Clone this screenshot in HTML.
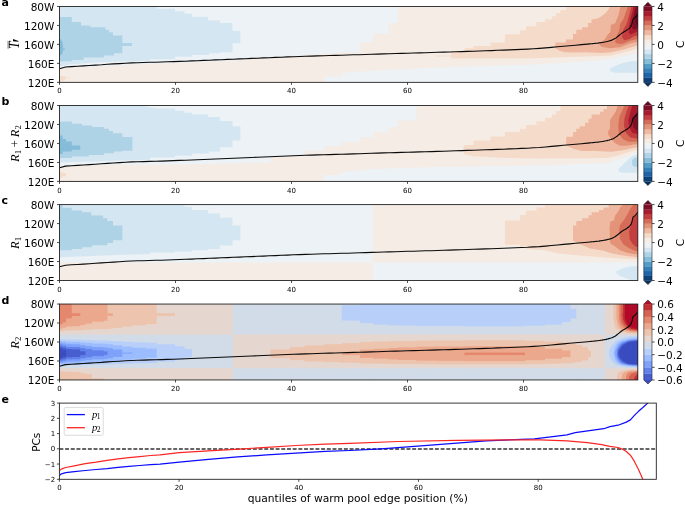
<!DOCTYPE html>
<html><head><meta charset="utf-8"><title>figure</title>
<style>html,body{margin:0;padding:0;background:#fff}svg{display:block}</style></head>
<body>
<svg width="685" height="505" viewBox="0 0 685 505">
<rect width="685" height="505" fill="#fff"/>
<g shape-rendering="auto">
<clipPath id="cpa"><rect x="59.5" y="6.45" width="578.3" height="75.9"/></clipPath>
<g clip-path="url(#cpa)">
<rect x="59.5" y="6.45" width="578.3" height="75.9" fill="#ecf2f5"/>
<path d="M59.5 68.7 L62.4 67.7 L66.0 66.9 L75.0 67.5 L100.0 66.3 L130.0 64.5 L160.0 63.6 L200.0 62.1 L230.0 60.7 L245.0 59.5 L258.0 58.2 L270.0 57.7 L300.0 56.5 L304.0 56.3 L304.0 54.8 L324.0 54.2 L324.0 53.2 L341.8 52.7 L341.8 52.5 L359.9 52.5 L359.9 42.4 L373.2 42.4 L373.2 33.6 L388.8 33.6 L388.8 22.9 L398.0 22.9 L398.0 6.5 L637.8 6.5 L637.8 53.2 L628.8 55.0 L611.0 58.9 L595.0 61.0 L585.0 61.5 L535.0 64.5 L435.0 67.7 L400.0 69.2 L373.0 70.7 L343.0 72.7 L341.8 76.0 L324.0 77.0 L324.0 82.5 L59.5 82.5Z" fill="#f5ece6"/>
<path d="M59.5 6.5 L156.7 6.5 L156.7 8.7 L175.0 8.7 L175.0 11.2 L184.5 11.2 L184.5 13.8 L192.0 13.8 L192.0 16.8 L208.0 16.8 L208.0 20.4 L220.0 20.4 L220.0 22.9 L232.5 22.9 L232.5 30.9 L240.4 30.9 L240.4 43.2 L232.5 43.2 L232.5 52.2 L220.0 52.2 L220.0 53.2 L209.0 53.2 L209.0 55.0 L192.0 55.0 L192.0 56.7 L175.0 56.7 L175.0 59.2 L150.0 59.2 L150.0 60.5 L139.0 61.1 L122.0 61.5 L105.0 62.1 L88.0 63.1 L72.0 64.2 L65.0 65.2 L59.5 66.8Z" fill="#d4e6f1"/>
<path d="M59.5 17.1 L71.8 17.1 L71.8 21.9 L81.0 21.9 L81.0 25.6 L90.4 25.6 L90.4 27.2 L105.5 27.2 L105.5 29.8 L108.9 29.8 L108.9 32.2 L113.0 32.2 L113.0 35.6 L122.3 35.6 L122.3 42.9 L132.0 42.9 L132.0 46.1 L122.3 46.1 L122.3 53.2 L114.0 53.2 L114.0 55.5 L103.8 55.5 L103.8 57.6 L83.6 57.6 L83.6 60.0 L71.8 60.0 L71.8 61.2 L59.5 61.2 L59.5 62.6Z" fill="#aed3e6"/>
<path d="M59.5 38.1 L61.0 39.5 L62.5 42.5 L63.0 46.5 L63.0 48.5 L65.0 48.7 L65.0 49.7 L63.0 49.9 L62.8 52.5 L61.5 54.8 L59.5 55.9Z" fill="#84bcd9"/>
<path d="M59.5 76.0 L63.0 76.0 L66.0 76.9 L66.0 77.2 L70.5 77.2 L70.5 78.0 L66.0 78.0 L65.5 79.0 L63.0 81.0 L59.5 81.0Z" fill="#f5dbca"/>
<path d="M610.0 69.3 L610.5 68.0 L620.0 64.0 L628.8 61.5 L637.8 61.0 L637.8 72.7 L614.8 72.7 L610.5 71.2Z" fill="#d4e6f1"/>
<path d="M435.0 55.5 L451.0 55.5 L451.0 51.9 L464.5 51.5 L464.5 48.2 L473.4 48.2 L473.4 46.1 L490.6 46.1 L490.6 42.4 L504.9 42.4 L504.9 34.2 L520.0 34.2 L520.0 30.2 L526.0 30.2 L526.0 26.3 L536.4 26.3 L536.4 22.1 L545.0 22.1 L545.0 19.2 L552.0 19.2 L552.0 16.2 L556.0 16.2 L556.0 12.9 L560.4 12.9 L560.4 9.9 L566.2 9.9 L566.2 6.5 L637.8 6.5 L637.8 48.4 L628.8 51.0 L611.0 55.4 L595.0 56.2 L585.0 56.4 L525.0 58.4 L451.0 58.4 L451.0 56.4 L435.0 56.4Z" fill="#f5dbca"/>
<path d="M555.3 42.4 L566.0 42.4 L566.0 39.4 L573.0 39.4 L573.0 34.0 L576.3 34.0 L576.3 29.8 L582.0 29.8 L582.0 27.2 L588.0 27.2 L588.0 22.9 L591.5 22.9 L591.5 19.6 L598.0 18.4 L602.5 15.4 L606.0 12.8 L608.6 9.2 L610.0 6.5 L637.8 6.5 L637.8 45.2 L624.4 49.2 L611.0 52.2 L602.5 52.9 L585.0 52.2 L575.0 52.5 L565.0 52.2 L560.0 51.0 L555.3 48.0Z" fill="#eeb9a0"/>
<path d="M599.0 44.2 L605.0 39.0 L607.8 34.6 L610.4 31.9 L610.8 24.9 L615.2 23.2 L618.7 14.4 L620.0 8.3 L621.0 6.5 L637.8 6.5 L637.8 42.0 L630.5 43.2 L620.0 47.2 L609.5 48.2 L601.6 46.8Z" fill="#e39378"/>
<path d="M615.2 42.5 L615.6 39.0 L619.6 29.3 L620.0 24.1 L623.5 18.9 L626.2 10.9 L628.0 6.5 L637.8 6.5 L637.8 38.9 L630.5 40.6 L622.7 43.7 L617.4 43.7 L614.8 41.5Z" fill="#d66b57"/>
<path d="M621.8 37.2 L623.5 29.3 L626.6 24.1 L628.0 18.9 L629.7 12.8 L631.4 6.5 L637.8 6.5 L637.8 35.4 L634.0 36.2 L629.7 38.9 L624.4 40.2 L621.8 37.1Z" fill="#c43e40"/>
<path d="M628.8 33.8 L629.2 25.8 L630.5 17.9 L632.3 11.9 L633.6 6.5 L637.8 6.5 L637.8 31.3 L635.0 32.8 L630.5 34.5 L628.3 31.8Z" fill="#ab1b2e"/>
<path d="M632.3 29.3 L632.7 21.4 L633.6 14.4 L635.4 8.3 L637.0 6.5 L637.8 6.5 L637.8 28.3 L634.0 29.6 L632.3 28.3Z" fill="#7f0d26"/>
<path d="M637.8 10.4 L636.0 14.4 L635.5 20.4 L636.5 24.4 L637.8 25.4Z" fill="#6a0522"/>
<path d="M59.5 68.7 L65.5 67.0 L71.5 66.6 L77.5 66.3 L83.5 65.9 L89.5 65.5 L95.5 65.1 L101.5 64.8 L107.5 64.3 L113.5 63.9 L119.5 63.6 L125.5 63.2 L131.5 62.9 L137.5 62.7 L143.5 62.5 L149.5 62.3 L155.5 62.2 L161.5 62.0 L167.5 61.8 L173.5 61.6 L179.5 61.4 L185.5 61.2 L191.5 60.9 L197.5 60.7 L203.5 60.4 L209.5 60.2 L215.5 59.9 L221.5 59.7 L227.5 59.4 L233.5 59.2 L239.5 58.9 L245.5 58.7 L251.5 58.4 L257.5 58.2 L263.5 57.9 L269.5 57.7 L275.5 57.4 L281.5 57.2 L287.5 56.9 L293.5 56.7 L299.5 56.5 L305.5 56.3 L311.5 56.1 L317.5 55.9 L323.5 55.7 L329.5 55.5 L335.5 55.4 L341.5 55.2 L347.5 55.0 L353.5 54.8 L359.5 54.7 L365.5 54.5 L371.5 54.3 L377.5 54.1 L383.5 53.9 L389.5 53.7 L395.5 53.5 L401.5 53.4 L407.5 53.2 L413.5 53.0 L419.5 52.9 L425.5 52.7 L431.5 52.5 L437.5 52.3 L443.5 52.1 L449.5 52.0 L455.5 51.8 L461.5 51.6 L467.5 51.4 L473.5 51.2 L479.5 51.0 L485.5 50.8 L491.5 50.6 L497.5 50.3 L503.5 50.1 L509.5 49.9 L515.5 49.6 L521.5 49.4 L527.5 49.1 L533.5 48.8 L539.5 48.4 L545.5 47.9 L551.5 47.4 L557.5 46.8 L563.5 46.3 L569.5 45.7 L575.5 45.2 L581.5 44.6 L587.5 44.1 L590.0 43.9 L591.0 43.8 L592.0 43.7 L593.0 43.6 L594.0 43.5 L595.0 43.4 L596.0 43.3 L597.0 43.2 L598.0 43.1 L599.0 42.9 L600.0 42.8 L601.0 42.6 L602.0 42.5 L603.0 42.3 L604.0 42.2 L605.0 42.0 L606.0 41.8 L607.0 41.5 L608.0 41.3 L609.0 41.0 L610.0 40.7 L611.0 40.4 L612.0 40.1 L613.0 39.6 L614.0 39.1 L615.0 38.6 L616.0 37.9 L617.0 37.1 L618.0 36.3 L619.0 35.5 L620.0 34.6 L621.0 33.9 L622.0 33.1 L623.0 32.5 L624.0 31.8 L625.0 31.3 L626.0 30.7 L627.0 30.1 L628.0 29.4 L629.0 28.6 L630.0 27.6 L631.0 26.2 L632.0 23.4 L633.0 19.1 L634.0 18.3 L635.0 17.6 L636.0 16.5 L637.0 15.2 L637.8 14.1" fill="none" stroke="#0a0a0a" stroke-width="1.15" stroke-linejoin="round"/>
</g>
<clipPath id="cpb"><rect x="59.5" y="105.50" width="578.3" height="75.9"/></clipPath>
<g clip-path="url(#cpb)">
<rect x="59.5" y="105.50" width="578.3" height="75.9" fill="#ecf2f5"/>
<path d="M59.5 167.7 L62.4 166.7 L66.8 165.9 L75.0 165.5 L90.0 165.5 L122.0 164.4 L150.0 164.6 L170.0 164.8 L250.0 162.8 L270.6 162.2 L270.6 156.7 L300.0 155.5 L304.8 155.3 L304.8 150.7 L324.0 150.7 L324.0 146.1 L341.8 146.1 L341.8 141.8 L359.9 141.8 L359.9 137.2 L373.2 137.2 L373.2 132.1 L388.8 132.1 L388.8 127.1 L398.0 127.1 L398.0 120.4 L416.6 120.4 L416.6 105.5 L637.8 105.5 L637.8 152.3 L630.5 154.9 L620.0 159.3 L607.0 163.2 L585.0 163.9 L525.0 165.8 L435.0 167.0 L400.0 168.0 L373.0 169.2 L343.0 171.7 L341.8 171.7 L341.8 175.0 L324.0 175.0 L324.0 181.5 L59.5 181.5Z" fill="#f5ece6"/>
<path d="M59.5 105.5 L146.0 105.5 L146.0 106.9 L150.0 106.9 L150.0 107.7 L156.7 107.7 L156.7 108.6 L175.0 108.6 L175.0 110.8 L184.5 110.8 L184.5 112.8 L192.0 112.8 L192.0 114.5 L208.0 114.5 L208.0 117.0 L220.0 117.0 L220.0 120.9 L232.5 120.9 L232.5 126.3 L240.4 126.3 L240.4 140.6 L232.5 140.6 L232.5 147.3 L220.0 147.3 L220.0 151.5 L209.0 151.5 L209.0 153.5 L192.0 153.5 L192.0 155.7 L175.0 155.7 L175.0 157.4 L150.0 157.4 L150.0 159.0 L150.0 159.8 L122.0 160.5 L90.0 161.5 L59.5 162.4Z" fill="#d4e6f1"/>
<path d="M59.5 121.5 L71.8 121.5 L71.8 123.7 L82.0 123.7 L82.0 125.4 L92.0 125.4 L92.0 127.1 L103.8 127.1 L103.8 128.8 L108.9 128.8 L108.9 131.0 L113.0 131.0 L113.0 133.3 L122.3 133.3 L122.3 136.9 L132.4 136.9 L132.4 150.7 L122.3 150.7 L122.3 151.5 L114.0 151.5 L114.0 153.2 L103.8 153.2 L103.8 154.9 L88.7 154.9 L88.7 156.5 L71.8 156.5 L71.8 157.9 L59.5 157.9 L59.5 159.0Z" fill="#aed3e6"/>
<path d="M59.5 135.5 L62.6 135.5 L62.6 138.9 L66.0 138.9 L66.0 141.4 L71.8 141.4 L71.8 145.6 L80.3 145.6 L80.3 149.8 L71.8 149.8 L71.8 151.5 L62.6 151.5 L62.6 154.0 L59.5 154.0 L59.5 154.9Z" fill="#84bcd9"/>
<path d="M59.5 171.7 L62.0 171.7 L62.0 173.0 L66.0 173.0 L66.0 176.5 L62.0 176.5 L62.0 178.1 L59.5 178.1Z" fill="#f5dbca"/>
<path d="M451.0 150.6 L463.6 150.1 L463.6 145.1 L473.4 145.1 L473.4 140.6 L490.6 140.6 L490.6 136.4 L504.9 136.4 L504.9 132.1 L520.0 132.1 L520.0 128.8 L526.0 128.8 L526.0 125.1 L536.4 125.1 L536.4 121.2 L545.0 121.2 L545.0 117.8 L552.0 117.8 L552.0 114.5 L556.0 114.5 L556.0 111.1 L560.4 111.1 L560.4 105.5 L637.8 105.5 L637.8 149.6 L630.5 151.4 L620.0 154.9 L607.0 158.0 L585.0 158.2 L535.0 158.6 L505.0 157.9 L473.0 156.2 L463.6 154.0 L463.6 151.1 L451.0 151.6Z" fill="#f5dbca"/>
<path d="M566.2 136.7 L573.0 136.7 L573.0 132.1 L576.3 132.1 L576.3 128.8 L579.7 128.8 L579.7 126.3 L585.0 126.3 L585.0 122.7 L588.5 122.7 L588.5 118.8 L591.6 118.8 L591.6 114.4 L600.0 114.4 L600.0 111.8 L603.4 111.8 L603.4 109.1 L607.0 109.1 L607.0 105.5 L637.8 105.5 L637.8 147.0 L633.2 147.9 L624.4 150.1 L611.3 151.8 L595.0 151.0 L582.0 151.0 L573.8 149.0 L566.2 145.6Z" fill="#eeb9a0"/>
<path d="M617.8 105.5 L615.6 111.8 L611.3 117.9 L610.0 120.5 L610.0 128.4 L608.2 131.0 L608.2 134.5 L610.4 138.0 L614.8 143.0 L620.0 145.7 L627.0 145.7 L634.0 144.4 L637.8 144.0 L637.8 105.5Z" fill="#e39378"/>
<path d="M624.4 105.5 L621.8 111.8 L619.6 116.1 L618.3 124.9 L618.7 131.9 L620.0 135.6 L623.5 139.5 L628.8 141.8 L637.8 141.8 L637.8 105.5Z" fill="#d66b57"/>
<path d="M628.8 105.5 L627.0 110.0 L624.4 118.8 L624.0 125.8 L625.3 131.0 L626.0 133.0 L630.5 137.4 L637.8 138.7 L637.8 105.5Z" fill="#c43e40"/>
<path d="M632.3 105.5 L630.5 111.8 L628.3 120.5 L629.2 127.5 L632.3 132.8 L637.8 134.5 L637.8 105.5Z" fill="#ab1b2e"/>
<path d="M637.8 111.8 L634.0 116.1 L632.7 120.5 L633.2 126.6 L635.8 130.1 L637.8 130.5Z" fill="#7f0d26"/>
<path d="M618.7 168.8 L624.4 163.2 L631.4 156.5 L637.8 153.9 L637.8 172.7 L621.8 172.7 L618.7 171.4Z" fill="#d4e6f1"/>
<path d="M637.8 157.4 L634.0 157.7 L632.1 160.5 L632.1 164.5 L634.0 166.8 L637.8 167.0Z" fill="#aed3e6"/>
<path d="M59.5 167.7 L65.5 166.1 L71.5 165.7 L77.5 165.4 L83.5 165.0 L89.5 164.6 L95.5 164.2 L101.5 163.8 L107.5 163.4 L113.5 163.0 L119.5 162.6 L125.5 162.2 L131.5 161.9 L137.5 161.7 L143.5 161.6 L149.5 161.4 L155.5 161.2 L161.5 161.1 L167.5 160.9 L173.5 160.6 L179.5 160.4 L185.5 160.2 L191.5 160.0 L197.5 159.7 L203.5 159.5 L209.5 159.2 L215.5 159.0 L221.5 158.7 L227.5 158.5 L233.5 158.2 L239.5 158.0 L245.5 157.7 L251.5 157.5 L257.5 157.2 L263.5 157.0 L269.5 156.7 L275.5 156.5 L281.5 156.2 L287.5 156.0 L293.5 155.7 L299.5 155.5 L305.5 155.3 L311.5 155.1 L317.5 154.9 L323.5 154.7 L329.5 154.6 L335.5 154.4 L341.5 154.2 L347.5 154.1 L353.5 153.9 L359.5 153.7 L365.5 153.5 L371.5 153.3 L377.5 153.1 L383.5 152.9 L389.5 152.8 L395.5 152.6 L401.5 152.4 L407.5 152.2 L413.5 152.1 L419.5 151.9 L425.5 151.7 L431.5 151.6 L437.5 151.4 L443.5 151.2 L449.5 151.0 L455.5 150.8 L461.5 150.6 L467.5 150.4 L473.5 150.2 L479.5 150.0 L485.5 149.8 L491.5 149.6 L497.5 149.4 L503.5 149.2 L509.5 148.9 L515.5 148.7 L521.5 148.4 L527.5 148.2 L533.5 147.8 L539.5 147.5 L545.5 147.0 L551.5 146.4 L557.5 145.9 L563.5 145.3 L569.5 144.8 L575.5 144.2 L581.5 143.7 L587.5 143.1 L590.0 142.9 L591.0 142.8 L592.0 142.7 L593.0 142.6 L594.0 142.5 L595.0 142.4 L596.0 142.3 L597.0 142.2 L598.0 142.1 L599.0 142.0 L600.0 141.8 L601.0 141.7 L602.0 141.5 L603.0 141.4 L604.0 141.2 L605.0 141.0 L606.0 140.8 L607.0 140.6 L608.0 140.3 L609.0 140.1 L610.0 139.8 L611.0 139.5 L612.0 139.1 L613.0 138.7 L614.0 138.2 L615.0 137.6 L616.0 136.9 L617.0 136.2 L618.0 135.4 L619.0 134.5 L620.0 133.7 L621.0 132.9 L622.0 132.2 L623.0 131.5 L624.0 130.9 L625.0 130.4 L626.0 129.8 L627.0 129.2 L628.0 128.4 L629.0 127.6 L630.0 126.6 L631.0 125.3 L632.0 122.5 L633.0 118.1 L634.0 117.3 L635.0 116.6 L636.0 115.5 L637.0 114.2 L637.8 113.1" fill="none" stroke="#0a0a0a" stroke-width="1.15" stroke-linejoin="round"/>
</g>
<clipPath id="cpc"><rect x="59.5" y="204.60" width="578.3" height="75.9"/></clipPath>
<g clip-path="url(#cpc)">
<rect x="59.5" y="204.60" width="578.3" height="75.9" fill="#ecf2f5"/>
<path d="M59.5 262.4 L372.8 262.4 L372.8 280.6 L59.5 280.6Z" fill="#f5ece6"/>
<path d="M372.8 204.6 L637.8 204.6 L637.8 262.4 L372.8 262.4Z" fill="#f5ece6"/>
<path d="M59.5 204.6 L184.5 204.6 L184.5 206.8 L192.0 206.8 L192.0 209.9 L208.0 209.9 L208.0 213.6 L220.0 213.6 L220.0 217.8 L232.5 217.8 L232.5 225.4 L240.4 225.4 L240.4 240.2 L232.5 240.2 L232.5 245.6 L220.0 245.6 L220.0 248.9 L208.0 248.9 L208.0 250.3 L192.0 250.3 L192.0 251.4 L175.0 251.4 L175.0 252.6 L150.0 252.6 L150.0 254.0 L122.3 254.8 L92.0 255.9 L71.8 256.8 L59.5 257.3Z" fill="#d4e6f1"/>
<path d="M59.5 205.1 L62.6 205.1 L62.6 207.7 L71.8 207.7 L71.8 210.5 L82.0 210.5 L82.0 212.2 L91.2 212.2 L91.2 215.6 L103.0 215.6 L103.0 218.3 L107.2 218.3 L107.2 221.1 L113.0 221.1 L113.0 225.4 L122.3 225.4 L122.3 240.2 L113.0 240.2 L113.0 243.0 L107.2 243.0 L107.2 245.2 L92.0 245.2 L92.0 247.2 L82.0 247.2 L82.0 248.9 L71.8 248.9 L71.8 250.3 L59.5 250.3 L59.5 251.4Z" fill="#aed3e6"/>
<path d="M504.9 220.6 L520.0 220.6 L520.0 214.9 L526.0 214.9 L526.0 210.5 L536.4 210.5 L536.4 207.2 L545.0 207.2 L545.0 204.6 L637.8 204.6 L637.8 259.4 L620.0 258.5 L602.5 257.2 L585.0 255.9 L558.7 253.6 L545.0 250.3 L526.0 248.9 L526.0 246.4 L520.0 246.4 L520.0 244.7 L504.9 244.7Z" fill="#f5dbca"/>
<path d="M573.0 225.4 L576.3 225.4 L576.3 221.1 L582.0 221.1 L582.0 218.3 L588.5 218.3 L588.5 215.2 L591.6 215.2 L591.6 212.2 L599.0 212.2 L599.0 210.0 L603.4 210.0 L603.4 207.4 L608.6 207.4 L608.6 204.6 L637.8 204.6 L637.8 257.2 L628.8 256.3 L620.0 255.0 L611.3 253.2 L602.5 250.6 L590.3 248.4 L582.0 245.1 L576.3 242.2 L573.0 240.5Z" fill="#eeb9a0"/>
<path d="M623.5 204.6 L620.0 207.4 L618.7 210.9 L615.2 215.2 L613.9 220.5 L610.4 221.4 L609.5 228.4 L610.0 240.1 L610.4 243.6 L614.8 246.2 L620.0 250.2 L627.0 252.8 L634.0 254.1 L637.8 254.6 L637.8 204.6Z" fill="#e39378"/>
<path d="M634.0 204.6 L630.5 208.2 L627.9 213.5 L624.4 219.6 L620.0 224.9 L619.2 230.1 L620.0 238.9 L623.5 244.5 L628.8 248.0 L634.0 250.6 L637.8 251.5 L637.8 204.6Z" fill="#d66b57"/>
<path d="M637.8 214.4 L634.0 217.0 L631.4 224.0 L629.2 231.0 L629.7 238.9 L632.3 243.6 L635.8 246.7 L637.8 247.1Z" fill="#c43e40"/>
<path d="M615.2 272.1 L621.8 268.6 L630.5 266.4 L637.8 265.9 L637.8 280.6 L632.3 280.6 L627.0 278.6 L620.0 276.0Z" fill="#d4e6f1"/>
<path d="M59.5 266.8 L65.5 265.2 L71.5 264.8 L77.5 264.5 L83.5 264.1 L89.5 263.7 L95.5 263.3 L101.5 262.9 L107.5 262.5 L113.5 262.1 L119.5 261.7 L125.5 261.3 L131.5 261.0 L137.5 260.8 L143.5 260.7 L149.5 260.5 L155.5 260.3 L161.5 260.2 L167.5 260.0 L173.5 259.7 L179.5 259.5 L185.5 259.3 L191.5 259.1 L197.5 258.8 L203.5 258.6 L209.5 258.3 L215.5 258.1 L221.5 257.8 L227.5 257.6 L233.5 257.3 L239.5 257.1 L245.5 256.8 L251.5 256.6 L257.5 256.3 L263.5 256.1 L269.5 255.8 L275.5 255.6 L281.5 255.3 L287.5 255.1 L293.5 254.8 L299.5 254.6 L305.5 254.4 L311.5 254.2 L317.5 254.0 L323.5 253.8 L329.5 253.7 L335.5 253.5 L341.5 253.3 L347.5 253.2 L353.5 253.0 L359.5 252.8 L365.5 252.6 L371.5 252.4 L377.5 252.2 L383.5 252.0 L389.5 251.9 L395.5 251.7 L401.5 251.5 L407.5 251.3 L413.5 251.2 L419.5 251.0 L425.5 250.8 L431.5 250.7 L437.5 250.5 L443.5 250.3 L449.5 250.1 L455.5 249.9 L461.5 249.7 L467.5 249.5 L473.5 249.3 L479.5 249.1 L485.5 248.9 L491.5 248.7 L497.5 248.5 L503.5 248.3 L509.5 248.0 L515.5 247.8 L521.5 247.5 L527.5 247.3 L533.5 246.9 L539.5 246.6 L545.5 246.1 L551.5 245.5 L557.5 245.0 L563.5 244.4 L569.5 243.9 L575.5 243.3 L581.5 242.8 L587.5 242.2 L590.0 242.0 L591.0 241.9 L592.0 241.8 L593.0 241.7 L594.0 241.6 L595.0 241.5 L596.0 241.4 L597.0 241.3 L598.0 241.2 L599.0 241.1 L600.0 240.9 L601.0 240.8 L602.0 240.6 L603.0 240.5 L604.0 240.3 L605.0 240.1 L606.0 239.9 L607.0 239.7 L608.0 239.4 L609.0 239.2 L610.0 238.9 L611.0 238.6 L612.0 238.2 L613.0 237.8 L614.0 237.3 L615.0 236.7 L616.0 236.0 L617.0 235.3 L618.0 234.5 L619.0 233.6 L620.0 232.8 L621.0 232.0 L622.0 231.3 L623.0 230.6 L624.0 230.0 L625.0 229.5 L626.0 228.9 L627.0 228.3 L628.0 227.5 L629.0 226.7 L630.0 225.7 L631.0 224.4 L632.0 221.6 L633.0 217.2 L634.0 216.4 L635.0 215.7 L636.0 214.6 L637.0 213.3 L637.8 212.2" fill="none" stroke="#0a0a0a" stroke-width="1.15" stroke-linejoin="round"/>
</g>
<clipPath id="cpd"><rect x="59.5" y="304.05" width="578.3" height="75.9"/></clipPath>
<g clip-path="url(#cpd)">
<rect x="59.50" y="304.05" width="4.70" height="21.60" fill="#e4876d"/>
<rect x="59.50" y="324.45" width="4.70" height="5.40" fill="#eca88d"/>
<rect x="59.50" y="328.65" width="4.70" height="3.70" fill="#edc4ae"/>
<rect x="59.50" y="331.15" width="4.70" height="4.60" fill="#e5d7cf"/>
<rect x="59.50" y="334.55" width="4.70" height="5.90" fill="#d2dbe8"/>
<rect x="59.50" y="339.25" width="4.70" height="2.90" fill="#b7cff9"/>
<rect x="59.50" y="340.95" width="4.70" height="3.00" fill="#9bbcff"/>
<rect x="59.50" y="342.75" width="4.70" height="3.00" fill="#7ea1fa"/>
<rect x="59.50" y="344.55" width="4.70" height="3.50" fill="#6180e9"/>
<rect x="59.50" y="346.85" width="4.70" height="2.90" fill="#465ecf"/>
<rect x="59.50" y="348.55" width="4.70" height="10.50" fill="#3b4cc0"/>
<rect x="59.50" y="357.85" width="4.70" height="2.90" fill="#465ecf"/>
<rect x="59.50" y="359.55" width="4.70" height="3.00" fill="#6180e9"/>
<rect x="59.50" y="361.35" width="4.70" height="2.90" fill="#7ea1fa"/>
<rect x="59.50" y="363.05" width="4.70" height="2.40" fill="#9bbcff"/>
<rect x="59.50" y="364.25" width="4.70" height="2.10" fill="#b7cff9"/>
<rect x="59.50" y="365.15" width="4.70" height="4.10" fill="#d2dbe8"/>
<rect x="59.50" y="368.05" width="4.70" height="4.40" fill="#e5d7cf"/>
<rect x="59.50" y="371.25" width="4.70" height="9.90" fill="#edc4ae"/>
<rect x="62.60" y="304.05" width="5.10" height="19.60" fill="#e4876d"/>
<rect x="62.60" y="322.45" width="5.10" height="6.50" fill="#eca88d"/>
<rect x="62.60" y="327.75" width="5.10" height="4.30" fill="#edc4ae"/>
<rect x="62.60" y="330.85" width="5.10" height="4.90" fill="#e5d7cf"/>
<rect x="62.60" y="334.55" width="5.10" height="6.00" fill="#d2dbe8"/>
<rect x="62.60" y="339.35" width="5.10" height="3.20" fill="#b7cff9"/>
<rect x="62.60" y="341.35" width="5.10" height="3.20" fill="#9bbcff"/>
<rect x="62.60" y="343.35" width="5.10" height="3.40" fill="#7ea1fa"/>
<rect x="62.60" y="345.55" width="5.10" height="3.40" fill="#6180e9"/>
<rect x="62.60" y="347.75" width="5.10" height="3.40" fill="#465ecf"/>
<rect x="62.60" y="349.95" width="5.10" height="7.80" fill="#3b4cc0"/>
<rect x="62.60" y="356.55" width="5.10" height="3.30" fill="#465ecf"/>
<rect x="62.60" y="358.65" width="5.10" height="3.10" fill="#6180e9"/>
<rect x="62.60" y="360.55" width="5.10" height="3.20" fill="#7ea1fa"/>
<rect x="62.60" y="362.55" width="5.10" height="2.70" fill="#9bbcff"/>
<rect x="62.60" y="364.05" width="5.10" height="2.20" fill="#b7cff9"/>
<rect x="62.60" y="365.05" width="5.10" height="4.20" fill="#d2dbe8"/>
<rect x="62.60" y="368.05" width="5.10" height="4.60" fill="#e5d7cf"/>
<rect x="62.60" y="371.45" width="5.10" height="9.70" fill="#edc4ae"/>
<rect x="66.10" y="304.05" width="7.30" height="15.60" fill="#e4876d"/>
<rect x="66.10" y="318.45" width="7.30" height="9.20" fill="#eca88d"/>
<rect x="66.10" y="326.45" width="7.30" height="5.20" fill="#edc4ae"/>
<rect x="66.10" y="330.45" width="7.30" height="5.30" fill="#e5d7cf"/>
<rect x="66.10" y="334.55" width="7.30" height="6.30" fill="#d2dbe8"/>
<rect x="66.10" y="339.65" width="7.30" height="3.40" fill="#b7cff9"/>
<rect x="66.10" y="341.85" width="7.30" height="3.50" fill="#9bbcff"/>
<rect x="66.10" y="344.15" width="7.30" height="4.00" fill="#7ea1fa"/>
<rect x="66.10" y="346.95" width="7.30" height="3.40" fill="#6180e9"/>
<rect x="66.10" y="349.15" width="7.30" height="9.30" fill="#465ecf"/>
<rect x="66.10" y="357.25" width="7.30" height="3.40" fill="#6180e9"/>
<rect x="66.10" y="359.45" width="7.30" height="3.50" fill="#7ea1fa"/>
<rect x="66.10" y="361.75" width="7.30" height="3.10" fill="#9bbcff"/>
<rect x="66.10" y="363.65" width="7.30" height="2.50" fill="#b7cff9"/>
<rect x="66.10" y="364.95" width="7.30" height="4.30" fill="#d2dbe8"/>
<rect x="66.10" y="368.05" width="7.30" height="4.90" fill="#e5d7cf"/>
<rect x="66.10" y="371.75" width="7.30" height="9.40" fill="#edc4ae"/>
<rect x="71.80" y="304.05" width="10.10" height="10.40" fill="#eca88d"/>
<rect x="71.80" y="313.25" width="10.10" height="3.90" fill="#e4876d"/>
<rect x="71.80" y="315.95" width="10.10" height="11.50" fill="#eca88d"/>
<rect x="71.80" y="326.25" width="10.10" height="5.30" fill="#edc4ae"/>
<rect x="71.80" y="330.35" width="10.10" height="5.40" fill="#e5d7cf"/>
<rect x="71.80" y="334.55" width="10.10" height="6.30" fill="#d2dbe8"/>
<rect x="71.80" y="339.65" width="10.10" height="3.50" fill="#b7cff9"/>
<rect x="71.80" y="341.95" width="10.10" height="3.50" fill="#9bbcff"/>
<rect x="71.80" y="344.25" width="10.10" height="4.00" fill="#7ea1fa"/>
<rect x="71.80" y="347.05" width="10.10" height="3.60" fill="#6180e9"/>
<rect x="71.80" y="349.45" width="10.10" height="8.70" fill="#465ecf"/>
<rect x="71.80" y="356.95" width="10.10" height="3.60" fill="#6180e9"/>
<rect x="71.80" y="359.35" width="10.10" height="3.50" fill="#7ea1fa"/>
<rect x="71.80" y="361.65" width="10.10" height="3.20" fill="#9bbcff"/>
<rect x="71.80" y="363.65" width="10.10" height="2.50" fill="#b7cff9"/>
<rect x="71.80" y="364.95" width="10.10" height="4.30" fill="#d2dbe8"/>
<rect x="71.80" y="368.05" width="10.10" height="5.00" fill="#e5d7cf"/>
<rect x="71.80" y="371.85" width="10.10" height="9.30" fill="#edc4ae"/>
<rect x="80.30" y="304.05" width="6.70" height="22.20" fill="#eca88d"/>
<rect x="80.30" y="325.05" width="6.70" height="6.20" fill="#edc4ae"/>
<rect x="80.30" y="330.05" width="6.70" height="5.70" fill="#e5d7cf"/>
<rect x="80.30" y="334.55" width="6.70" height="6.60" fill="#d2dbe8"/>
<rect x="80.30" y="339.95" width="6.70" height="3.70" fill="#b7cff9"/>
<rect x="80.30" y="342.45" width="6.70" height="3.90" fill="#9bbcff"/>
<rect x="80.30" y="345.15" width="6.70" height="4.10" fill="#7ea1fa"/>
<rect x="80.30" y="348.05" width="6.70" height="4.50" fill="#6180e9"/>
<rect x="80.30" y="351.35" width="6.70" height="4.90" fill="#465ecf"/>
<rect x="80.30" y="355.05" width="6.70" height="4.50" fill="#6180e9"/>
<rect x="80.30" y="358.35" width="6.70" height="3.70" fill="#7ea1fa"/>
<rect x="80.30" y="360.85" width="6.70" height="3.60" fill="#9bbcff"/>
<rect x="80.30" y="363.25" width="6.70" height="2.80" fill="#b7cff9"/>
<rect x="80.30" y="364.85" width="6.70" height="4.40" fill="#d2dbe8"/>
<rect x="80.30" y="368.05" width="6.70" height="6.10" fill="#e5d7cf"/>
<rect x="80.30" y="372.95" width="6.70" height="8.20" fill="#edc4ae"/>
<rect x="85.40" y="304.05" width="8.20" height="20.80" fill="#eca88d"/>
<rect x="85.40" y="323.65" width="8.20" height="7.20" fill="#edc4ae"/>
<rect x="85.40" y="329.65" width="8.20" height="6.10" fill="#e5d7cf"/>
<rect x="85.40" y="334.55" width="8.20" height="6.80" fill="#d2dbe8"/>
<rect x="85.40" y="340.15" width="8.20" height="4.00" fill="#b7cff9"/>
<rect x="85.40" y="342.95" width="8.20" height="4.30" fill="#9bbcff"/>
<rect x="85.40" y="346.05" width="8.20" height="4.20" fill="#7ea1fa"/>
<rect x="85.40" y="349.05" width="8.20" height="9.50" fill="#6180e9"/>
<rect x="85.40" y="357.35" width="8.20" height="4.00" fill="#7ea1fa"/>
<rect x="85.40" y="360.15" width="8.20" height="3.90" fill="#9bbcff"/>
<rect x="85.40" y="362.85" width="8.20" height="3.00" fill="#b7cff9"/>
<rect x="85.40" y="364.65" width="8.20" height="4.60" fill="#d2dbe8"/>
<rect x="85.40" y="368.05" width="8.20" height="7.20" fill="#e5d7cf"/>
<rect x="85.40" y="374.05" width="8.20" height="7.10" fill="#edc4ae"/>
<rect x="92.00" y="304.05" width="13.40" height="18.90" fill="#eca88d"/>
<rect x="92.00" y="321.75" width="13.40" height="8.70" fill="#edc4ae"/>
<rect x="92.00" y="329.25" width="13.40" height="6.50" fill="#e5d7cf"/>
<rect x="92.00" y="334.55" width="13.40" height="7.10" fill="#d2dbe8"/>
<rect x="92.00" y="340.45" width="13.40" height="4.30" fill="#b7cff9"/>
<rect x="92.00" y="343.55" width="13.40" height="4.70" fill="#9bbcff"/>
<rect x="92.00" y="347.05" width="13.40" height="4.50" fill="#7ea1fa"/>
<rect x="92.00" y="350.35" width="13.40" height="7.00" fill="#6180e9"/>
<rect x="92.00" y="356.15" width="13.40" height="4.40" fill="#7ea1fa"/>
<rect x="92.00" y="359.35" width="13.40" height="4.20" fill="#9bbcff"/>
<rect x="92.00" y="362.35" width="13.40" height="3.40" fill="#b7cff9"/>
<rect x="92.00" y="364.55" width="13.40" height="4.70" fill="#d2dbe8"/>
<rect x="92.00" y="368.05" width="13.40" height="11.40" fill="#e5d7cf"/>
<rect x="92.00" y="378.25" width="13.40" height="2.90" fill="#edc4ae"/>
<rect x="103.80" y="304.05" width="5.30" height="17.90" fill="#eca88d"/>
<rect x="103.80" y="320.75" width="5.30" height="9.60" fill="#edc4ae"/>
<rect x="103.80" y="329.15" width="5.30" height="6.60" fill="#e5d7cf"/>
<rect x="103.80" y="334.55" width="5.30" height="7.20" fill="#d2dbe8"/>
<rect x="103.80" y="340.55" width="5.30" height="4.40" fill="#b7cff9"/>
<rect x="103.80" y="343.75" width="5.30" height="4.90" fill="#9bbcff"/>
<rect x="103.80" y="347.45" width="5.30" height="5.10" fill="#7ea1fa"/>
<rect x="103.80" y="351.35" width="5.30" height="4.90" fill="#6180e9"/>
<rect x="103.80" y="355.05" width="5.30" height="5.10" fill="#7ea1fa"/>
<rect x="103.80" y="358.95" width="5.30" height="4.40" fill="#9bbcff"/>
<rect x="103.80" y="362.15" width="5.30" height="3.50" fill="#b7cff9"/>
<rect x="103.80" y="364.45" width="5.30" height="4.80" fill="#d2dbe8"/>
<rect x="103.80" y="368.05" width="5.30" height="13.10" fill="#e5d7cf"/>
<rect x="107.50" y="304.05" width="7.10" height="10.40" fill="#edc4ae"/>
<rect x="107.50" y="313.25" width="7.10" height="3.90" fill="#eca88d"/>
<rect x="107.50" y="315.95" width="7.10" height="14.00" fill="#edc4ae"/>
<rect x="107.50" y="328.75" width="7.10" height="7.00" fill="#e5d7cf"/>
<rect x="107.50" y="334.55" width="7.10" height="7.40" fill="#d2dbe8"/>
<rect x="107.50" y="340.75" width="7.10" height="4.70" fill="#b7cff9"/>
<rect x="107.50" y="344.25" width="7.10" height="5.10" fill="#9bbcff"/>
<rect x="107.50" y="348.15" width="7.10" height="11.30" fill="#7ea1fa"/>
<rect x="107.50" y="358.25" width="7.10" height="4.60" fill="#9bbcff"/>
<rect x="107.50" y="361.65" width="7.10" height="3.90" fill="#b7cff9"/>
<rect x="107.50" y="364.35" width="7.10" height="4.90" fill="#d2dbe8"/>
<rect x="107.50" y="368.05" width="7.10" height="13.10" fill="#e5d7cf"/>
<rect x="113.00" y="304.05" width="10.90" height="25.10" fill="#edc4ae"/>
<rect x="113.00" y="327.95" width="10.90" height="7.80" fill="#e5d7cf"/>
<rect x="113.00" y="334.55" width="10.90" height="7.90" fill="#d2dbe8"/>
<rect x="113.00" y="341.25" width="10.90" height="5.30" fill="#b7cff9"/>
<rect x="113.00" y="345.35" width="10.90" height="5.40" fill="#9bbcff"/>
<rect x="113.00" y="349.55" width="10.90" height="8.50" fill="#7ea1fa"/>
<rect x="113.00" y="356.85" width="10.90" height="5.10" fill="#9bbcff"/>
<rect x="113.00" y="360.75" width="10.90" height="4.50" fill="#b7cff9"/>
<rect x="113.00" y="364.05" width="10.90" height="5.20" fill="#d2dbe8"/>
<rect x="113.00" y="368.05" width="10.90" height="13.10" fill="#e5d7cf"/>
<rect x="122.30" y="304.05" width="11.70" height="23.90" fill="#edc4ae"/>
<rect x="122.30" y="326.75" width="11.70" height="9.00" fill="#e5d7cf"/>
<rect x="122.30" y="334.55" width="11.70" height="8.40" fill="#d2dbe8"/>
<rect x="122.30" y="341.75" width="11.70" height="6.10" fill="#b7cff9"/>
<rect x="122.30" y="346.65" width="11.70" height="7.20" fill="#9bbcff"/>
<rect x="122.30" y="352.65" width="11.70" height="2.20" fill="#7ea1fa"/>
<rect x="122.30" y="353.65" width="11.70" height="7.30" fill="#9bbcff"/>
<rect x="122.30" y="359.75" width="11.70" height="5.20" fill="#b7cff9"/>
<rect x="122.30" y="363.75" width="11.70" height="5.50" fill="#d2dbe8"/>
<rect x="122.30" y="368.05" width="11.70" height="13.10" fill="#e5d7cf"/>
<rect x="132.40" y="304.05" width="15.20" height="22.50" fill="#edc4ae"/>
<rect x="132.40" y="325.35" width="15.20" height="10.40" fill="#e5d7cf"/>
<rect x="132.40" y="334.55" width="15.20" height="9.00" fill="#d2dbe8"/>
<rect x="132.40" y="342.35" width="15.20" height="6.60" fill="#b7cff9"/>
<rect x="132.40" y="347.75" width="15.20" height="12.10" fill="#9bbcff"/>
<rect x="132.40" y="358.65" width="15.20" height="5.90" fill="#b7cff9"/>
<rect x="132.40" y="363.35" width="15.20" height="5.90" fill="#d2dbe8"/>
<rect x="132.40" y="368.05" width="15.20" height="13.10" fill="#e5d7cf"/>
<rect x="146.00" y="304.05" width="12.30" height="21.40" fill="#edc4ae"/>
<rect x="146.00" y="324.25" width="12.30" height="11.50" fill="#e5d7cf"/>
<rect x="146.00" y="334.55" width="12.30" height="9.40" fill="#d2dbe8"/>
<rect x="146.00" y="342.75" width="12.30" height="7.10" fill="#b7cff9"/>
<rect x="146.00" y="348.65" width="12.30" height="10.30" fill="#9bbcff"/>
<rect x="146.00" y="357.75" width="12.30" height="6.50" fill="#b7cff9"/>
<rect x="146.00" y="363.05" width="12.30" height="6.20" fill="#d2dbe8"/>
<rect x="146.00" y="368.05" width="12.30" height="13.10" fill="#e5d7cf"/>
<rect x="156.70" y="304.05" width="19.90" height="10.30" fill="#e5d7cf"/>
<rect x="156.70" y="313.15" width="19.90" height="4.10" fill="#edc4ae"/>
<rect x="156.70" y="316.05" width="19.90" height="19.70" fill="#e5d7cf"/>
<rect x="156.70" y="334.55" width="19.90" height="10.90" fill="#d2dbe8"/>
<rect x="156.70" y="344.25" width="19.90" height="18.60" fill="#b7cff9"/>
<rect x="156.70" y="361.65" width="19.90" height="7.60" fill="#d2dbe8"/>
<rect x="156.70" y="368.05" width="19.90" height="13.10" fill="#e5d7cf"/>
<rect x="175.00" y="304.05" width="11.10" height="31.70" fill="#e5d7cf"/>
<rect x="175.00" y="334.55" width="11.10" height="12.90" fill="#d2dbe8"/>
<rect x="175.00" y="346.25" width="11.10" height="15.00" fill="#b7cff9"/>
<rect x="175.00" y="360.05" width="11.10" height="9.20" fill="#d2dbe8"/>
<rect x="175.00" y="368.05" width="11.10" height="13.10" fill="#e5d7cf"/>
<rect x="184.50" y="304.05" width="9.10" height="31.70" fill="#e5d7cf"/>
<rect x="184.50" y="334.55" width="9.10" height="15.70" fill="#d2dbe8"/>
<rect x="184.50" y="349.05" width="9.10" height="9.50" fill="#b7cff9"/>
<rect x="184.50" y="357.35" width="9.10" height="11.90" fill="#d2dbe8"/>
<rect x="184.50" y="368.05" width="9.10" height="13.10" fill="#e5d7cf"/>
<rect x="192.00" y="304.05" width="17.60" height="31.70" fill="#e5d7cf"/>
<rect x="192.00" y="334.55" width="17.60" height="34.70" fill="#d2dbe8"/>
<rect x="192.00" y="368.05" width="17.60" height="13.10" fill="#e5d7cf"/>
<rect x="208.00" y="304.05" width="13.60" height="31.70" fill="#e5d7cf"/>
<rect x="208.00" y="334.55" width="13.60" height="34.70" fill="#d2dbe8"/>
<rect x="208.00" y="368.05" width="13.60" height="13.10" fill="#e5d7cf"/>
<rect x="220.00" y="304.05" width="14.40" height="31.70" fill="#e5d7cf"/>
<rect x="220.00" y="334.55" width="14.40" height="34.70" fill="#d2dbe8"/>
<rect x="220.00" y="368.05" width="14.40" height="13.10" fill="#e5d7cf"/>
<rect x="232.80" y="304.05" width="9.20" height="31.60" fill="#d2dbe8"/>
<rect x="232.80" y="334.45" width="9.20" height="34.90" fill="#e5d7cf"/>
<rect x="232.80" y="368.15" width="9.20" height="13.00" fill="#d2dbe8"/>
<rect x="240.40" y="304.05" width="31.80" height="31.60" fill="#d2dbe8"/>
<rect x="240.40" y="334.45" width="31.80" height="34.90" fill="#e5d7cf"/>
<rect x="240.40" y="368.15" width="31.80" height="13.00" fill="#d2dbe8"/>
<rect x="270.60" y="304.05" width="21.10" height="31.60" fill="#d2dbe8"/>
<rect x="270.60" y="334.45" width="21.10" height="16.10" fill="#e5d7cf"/>
<rect x="270.60" y="349.35" width="21.10" height="10.00" fill="#edc4ae"/>
<rect x="270.60" y="358.15" width="21.10" height="11.20" fill="#e5d7cf"/>
<rect x="270.60" y="368.15" width="21.10" height="13.00" fill="#d2dbe8"/>
<rect x="290.10" y="304.05" width="16.30" height="31.60" fill="#d2dbe8"/>
<rect x="290.10" y="334.45" width="16.30" height="13.80" fill="#e5d7cf"/>
<rect x="290.10" y="347.05" width="16.30" height="14.40" fill="#edc4ae"/>
<rect x="290.10" y="360.25" width="16.30" height="9.10" fill="#e5d7cf"/>
<rect x="290.10" y="368.15" width="16.30" height="13.00" fill="#d2dbe8"/>
<rect x="304.80" y="304.05" width="20.90" height="31.60" fill="#d2dbe8"/>
<rect x="304.80" y="334.45" width="20.90" height="12.10" fill="#e5d7cf"/>
<rect x="304.80" y="345.35" width="20.90" height="17.40" fill="#edc4ae"/>
<rect x="304.80" y="361.55" width="20.90" height="7.80" fill="#e5d7cf"/>
<rect x="304.80" y="368.15" width="20.90" height="13.00" fill="#d2dbe8"/>
<rect x="324.10" y="304.05" width="19.30" height="31.60" fill="#d2dbe8"/>
<rect x="324.10" y="334.45" width="19.30" height="11.00" fill="#e5d7cf"/>
<rect x="324.10" y="344.25" width="19.30" height="19.20" fill="#edc4ae"/>
<rect x="324.10" y="362.25" width="19.30" height="7.10" fill="#e5d7cf"/>
<rect x="324.10" y="368.15" width="19.30" height="13.00" fill="#d2dbe8"/>
<rect x="341.80" y="304.05" width="19.70" height="2.30" fill="#d2dbe8"/>
<rect x="341.80" y="305.15" width="19.70" height="16.60" fill="#b7cff9"/>
<rect x="341.80" y="320.55" width="19.70" height="15.10" fill="#d2dbe8"/>
<rect x="341.80" y="334.45" width="19.70" height="10.00" fill="#e5d7cf"/>
<rect x="341.80" y="343.25" width="19.70" height="10.50" fill="#edc4ae"/>
<rect x="341.80" y="352.55" width="19.70" height="3.70" fill="#eca88d"/>
<rect x="341.80" y="355.05" width="19.70" height="8.90" fill="#edc4ae"/>
<rect x="341.80" y="362.75" width="19.70" height="6.60" fill="#e5d7cf"/>
<rect x="341.80" y="368.15" width="19.70" height="13.00" fill="#d2dbe8"/>
<rect x="359.90" y="304.05" width="14.90" height="20.20" fill="#b7cff9"/>
<rect x="359.90" y="323.05" width="14.90" height="12.60" fill="#d2dbe8"/>
<rect x="359.90" y="334.45" width="14.90" height="8.60" fill="#e5d7cf"/>
<rect x="359.90" y="341.85" width="14.90" height="9.00" fill="#edc4ae"/>
<rect x="359.90" y="349.65" width="14.90" height="9.40" fill="#eca88d"/>
<rect x="359.90" y="357.85" width="14.90" height="6.90" fill="#edc4ae"/>
<rect x="359.90" y="363.55" width="14.90" height="5.80" fill="#e5d7cf"/>
<rect x="359.90" y="368.15" width="14.90" height="13.00" fill="#d2dbe8"/>
<rect x="373.20" y="304.05" width="17.20" height="21.80" fill="#b7cff9"/>
<rect x="373.20" y="324.65" width="17.20" height="11.00" fill="#d2dbe8"/>
<rect x="373.20" y="334.45" width="17.20" height="8.20" fill="#e5d7cf"/>
<rect x="373.20" y="341.45" width="17.20" height="8.50" fill="#edc4ae"/>
<rect x="373.20" y="348.75" width="17.20" height="11.10" fill="#eca88d"/>
<rect x="373.20" y="358.65" width="17.20" height="6.30" fill="#edc4ae"/>
<rect x="373.20" y="363.75" width="17.20" height="5.60" fill="#e5d7cf"/>
<rect x="373.20" y="368.15" width="17.20" height="13.00" fill="#d2dbe8"/>
<rect x="388.80" y="304.05" width="10.80" height="22.40" fill="#b7cff9"/>
<rect x="388.80" y="325.25" width="10.80" height="10.40" fill="#d2dbe8"/>
<rect x="388.80" y="334.45" width="10.80" height="7.80" fill="#e5d7cf"/>
<rect x="388.80" y="341.05" width="10.80" height="8.10" fill="#edc4ae"/>
<rect x="388.80" y="347.95" width="10.80" height="12.70" fill="#eca88d"/>
<rect x="388.80" y="359.45" width="10.80" height="5.70" fill="#edc4ae"/>
<rect x="388.80" y="363.95" width="10.80" height="5.40" fill="#e5d7cf"/>
<rect x="388.80" y="368.15" width="10.80" height="13.00" fill="#d2dbe8"/>
<rect x="398.00" y="304.05" width="20.20" height="22.70" fill="#b7cff9"/>
<rect x="398.00" y="325.55" width="20.20" height="10.10" fill="#d2dbe8"/>
<rect x="398.00" y="334.45" width="20.20" height="7.60" fill="#e5d7cf"/>
<rect x="398.00" y="340.85" width="20.20" height="7.70" fill="#edc4ae"/>
<rect x="398.00" y="347.35" width="20.20" height="13.80" fill="#eca88d"/>
<rect x="398.00" y="359.95" width="20.20" height="5.30" fill="#edc4ae"/>
<rect x="398.00" y="364.05" width="20.20" height="5.30" fill="#e5d7cf"/>
<rect x="398.00" y="368.15" width="20.20" height="13.00" fill="#d2dbe8"/>
<rect x="416.60" y="304.05" width="20.00" height="23.20" fill="#b7cff9"/>
<rect x="416.60" y="326.05" width="20.00" height="9.60" fill="#d2dbe8"/>
<rect x="416.60" y="334.45" width="20.00" height="7.30" fill="#e5d7cf"/>
<rect x="416.60" y="340.55" width="20.00" height="7.30" fill="#edc4ae"/>
<rect x="416.60" y="346.65" width="20.00" height="15.20" fill="#eca88d"/>
<rect x="416.60" y="360.65" width="20.00" height="4.80" fill="#edc4ae"/>
<rect x="416.60" y="364.25" width="20.00" height="5.10" fill="#e5d7cf"/>
<rect x="416.60" y="368.15" width="20.00" height="13.00" fill="#d2dbe8"/>
<rect x="435.00" y="304.05" width="31.10" height="23.30" fill="#b7cff9"/>
<rect x="435.00" y="326.15" width="31.10" height="9.50" fill="#d2dbe8"/>
<rect x="435.00" y="334.45" width="31.10" height="7.20" fill="#e5d7cf"/>
<rect x="435.00" y="340.45" width="31.10" height="7.20" fill="#edc4ae"/>
<rect x="435.00" y="346.45" width="31.10" height="15.60" fill="#eca88d"/>
<rect x="435.00" y="360.85" width="31.10" height="4.70" fill="#edc4ae"/>
<rect x="435.00" y="364.35" width="31.10" height="5.00" fill="#e5d7cf"/>
<rect x="435.00" y="368.15" width="31.10" height="13.00" fill="#d2dbe8"/>
<rect x="464.50" y="304.05" width="62.10" height="23.50" fill="#b7cff9"/>
<rect x="464.50" y="326.35" width="62.10" height="9.30" fill="#d2dbe8"/>
<rect x="464.50" y="334.45" width="62.10" height="7.00" fill="#e5d7cf"/>
<rect x="464.50" y="340.25" width="62.10" height="7.10" fill="#edc4ae"/>
<rect x="464.50" y="346.15" width="62.10" height="7.60" fill="#eca88d"/>
<rect x="464.50" y="352.55" width="62.10" height="3.70" fill="#e4876d"/>
<rect x="464.50" y="355.05" width="62.10" height="7.30" fill="#eca88d"/>
<rect x="464.50" y="361.15" width="62.10" height="4.50" fill="#edc4ae"/>
<rect x="464.50" y="364.45" width="62.10" height="4.90" fill="#e5d7cf"/>
<rect x="464.50" y="368.15" width="62.10" height="13.00" fill="#d2dbe8"/>
<rect x="525.00" y="304.05" width="21.60" height="22.90" fill="#b7cff9"/>
<rect x="525.00" y="325.75" width="21.60" height="9.90" fill="#d2dbe8"/>
<rect x="525.00" y="334.45" width="21.60" height="7.50" fill="#e5d7cf"/>
<rect x="525.00" y="340.75" width="21.60" height="7.50" fill="#edc4ae"/>
<rect x="525.00" y="347.05" width="21.60" height="14.40" fill="#eca88d"/>
<rect x="525.00" y="360.25" width="21.60" height="5.10" fill="#edc4ae"/>
<rect x="525.00" y="364.15" width="21.60" height="5.20" fill="#e5d7cf"/>
<rect x="525.00" y="368.15" width="21.60" height="13.00" fill="#d2dbe8"/>
<rect x="545.00" y="304.05" width="18.60" height="21.80" fill="#b7cff9"/>
<rect x="545.00" y="324.65" width="18.60" height="11.00" fill="#d2dbe8"/>
<rect x="545.00" y="334.45" width="18.60" height="8.20" fill="#e5d7cf"/>
<rect x="545.00" y="341.45" width="18.60" height="8.50" fill="#edc4ae"/>
<rect x="545.00" y="348.75" width="18.60" height="11.10" fill="#eca88d"/>
<rect x="545.00" y="358.65" width="18.60" height="6.30" fill="#edc4ae"/>
<rect x="545.00" y="363.75" width="18.60" height="5.60" fill="#e5d7cf"/>
<rect x="545.00" y="368.15" width="18.60" height="13.00" fill="#d2dbe8"/>
<rect x="562.00" y="304.05" width="10.10" height="19.30" fill="#b7cff9"/>
<rect x="562.00" y="322.15" width="10.10" height="13.50" fill="#d2dbe8"/>
<rect x="562.00" y="334.45" width="10.10" height="9.00" fill="#e5d7cf"/>
<rect x="562.00" y="342.25" width="10.10" height="9.40" fill="#edc4ae"/>
<rect x="562.00" y="350.45" width="10.10" height="7.80" fill="#eca88d"/>
<rect x="562.00" y="357.05" width="10.10" height="7.50" fill="#edc4ae"/>
<rect x="562.00" y="363.35" width="10.10" height="6.00" fill="#e5d7cf"/>
<rect x="562.00" y="368.15" width="10.10" height="13.00" fill="#d2dbe8"/>
<rect x="570.50" y="304.05" width="7.40" height="6.10" fill="#d2dbe8"/>
<rect x="570.50" y="308.95" width="7.40" height="10.80" fill="#b7cff9"/>
<rect x="570.50" y="318.55" width="7.40" height="17.10" fill="#d2dbe8"/>
<rect x="570.50" y="334.45" width="7.40" height="10.20" fill="#e5d7cf"/>
<rect x="570.50" y="343.45" width="7.40" height="20.40" fill="#edc4ae"/>
<rect x="570.50" y="362.65" width="7.40" height="6.70" fill="#e5d7cf"/>
<rect x="570.50" y="368.15" width="7.40" height="13.00" fill="#d2dbe8"/>
<rect x="576.30" y="304.05" width="7.30" height="31.60" fill="#d2dbe8"/>
<rect x="576.30" y="334.45" width="7.30" height="11.60" fill="#e5d7cf"/>
<rect x="576.30" y="344.85" width="7.30" height="18.20" fill="#edc4ae"/>
<rect x="576.30" y="361.85" width="7.30" height="7.50" fill="#e5d7cf"/>
<rect x="576.30" y="368.15" width="7.30" height="13.00" fill="#d2dbe8"/>
<rect x="582.00" y="304.05" width="7.60" height="31.60" fill="#d2dbe8"/>
<rect x="582.00" y="334.45" width="7.60" height="13.60" fill="#e5d7cf"/>
<rect x="582.00" y="346.85" width="7.60" height="14.80" fill="#edc4ae"/>
<rect x="582.00" y="360.45" width="7.60" height="8.90" fill="#e5d7cf"/>
<rect x="582.00" y="368.15" width="7.60" height="13.00" fill="#d2dbe8"/>
<rect x="588.00" y="304.05" width="4.60" height="31.60" fill="#d2dbe8"/>
<rect x="588.00" y="334.45" width="4.60" height="17.20" fill="#e5d7cf"/>
<rect x="588.00" y="350.45" width="4.60" height="7.80" fill="#edc4ae"/>
<rect x="588.00" y="357.05" width="4.60" height="12.30" fill="#e5d7cf"/>
<rect x="588.00" y="368.15" width="4.60" height="13.00" fill="#d2dbe8"/>
<rect x="591.00" y="304.05" width="7.60" height="31.60" fill="#d2dbe8"/>
<rect x="591.00" y="334.45" width="7.60" height="34.90" fill="#e5d7cf"/>
<rect x="591.00" y="368.15" width="7.60" height="13.00" fill="#d2dbe8"/>
<rect x="597.00" y="304.05" width="9.60" height="31.60" fill="#d2dbe8"/>
<rect x="597.00" y="334.45" width="9.60" height="34.90" fill="#e5d7cf"/>
<rect x="597.00" y="368.15" width="9.60" height="13.00" fill="#d2dbe8"/>
<rect x="605.00" y="304.05" width="2.20" height="31.70" fill="#e5d7cf"/>
<rect x="605.00" y="334.55" width="2.20" height="34.70" fill="#d2dbe8"/>
<rect x="605.00" y="368.05" width="2.20" height="13.10" fill="#e5d7cf"/>
<rect x="605.60" y="304.05" width="2.20" height="31.70" fill="#e5d7cf"/>
<rect x="605.60" y="334.55" width="2.20" height="34.70" fill="#d2dbe8"/>
<rect x="605.60" y="368.05" width="2.20" height="13.10" fill="#e5d7cf"/>
<rect x="606.20" y="304.05" width="2.20" height="31.70" fill="#e5d7cf"/>
<rect x="606.20" y="334.55" width="2.20" height="34.70" fill="#d2dbe8"/>
<rect x="606.20" y="368.05" width="2.20" height="13.10" fill="#e5d7cf"/>
<rect x="606.80" y="304.05" width="2.20" height="31.70" fill="#e5d7cf"/>
<rect x="606.80" y="334.55" width="2.20" height="34.70" fill="#d2dbe8"/>
<rect x="606.80" y="368.05" width="2.20" height="13.10" fill="#e5d7cf"/>
<rect x="607.40" y="304.05" width="2.20" height="31.70" fill="#e5d7cf"/>
<rect x="607.40" y="334.55" width="2.20" height="34.70" fill="#d2dbe8"/>
<rect x="607.40" y="368.05" width="2.20" height="13.10" fill="#e5d7cf"/>
<rect x="608.00" y="304.05" width="2.20" height="31.70" fill="#e5d7cf"/>
<rect x="608.00" y="334.55" width="2.20" height="34.70" fill="#d2dbe8"/>
<rect x="608.00" y="368.05" width="2.20" height="13.10" fill="#e5d7cf"/>
<rect x="608.60" y="304.05" width="2.20" height="31.70" fill="#e5d7cf"/>
<rect x="608.60" y="334.55" width="2.20" height="34.70" fill="#d2dbe8"/>
<rect x="608.60" y="368.05" width="2.20" height="13.10" fill="#e5d7cf"/>
<rect x="609.20" y="304.05" width="2.20" height="31.70" fill="#e5d7cf"/>
<rect x="609.20" y="334.55" width="2.20" height="17.00" fill="#d2dbe8"/>
<rect x="609.20" y="350.35" width="2.20" height="7.00" fill="#b7cff9"/>
<rect x="609.20" y="356.15" width="2.20" height="13.10" fill="#d2dbe8"/>
<rect x="609.20" y="368.05" width="2.20" height="13.10" fill="#e5d7cf"/>
<rect x="609.80" y="304.05" width="2.20" height="31.70" fill="#e5d7cf"/>
<rect x="609.80" y="334.55" width="2.20" height="15.40" fill="#d2dbe8"/>
<rect x="609.80" y="348.75" width="2.20" height="10.10" fill="#b7cff9"/>
<rect x="609.80" y="357.65" width="2.20" height="11.60" fill="#d2dbe8"/>
<rect x="609.80" y="368.05" width="2.20" height="13.10" fill="#e5d7cf"/>
<rect x="610.40" y="304.05" width="2.20" height="31.70" fill="#e5d7cf"/>
<rect x="610.40" y="334.55" width="2.20" height="14.30" fill="#d2dbe8"/>
<rect x="610.40" y="347.65" width="2.20" height="12.30" fill="#b7cff9"/>
<rect x="610.40" y="358.75" width="2.20" height="10.50" fill="#d2dbe8"/>
<rect x="610.40" y="368.05" width="2.20" height="13.10" fill="#e5d7cf"/>
<rect x="611.00" y="304.05" width="2.20" height="31.70" fill="#e5d7cf"/>
<rect x="611.00" y="334.55" width="2.20" height="13.40" fill="#d2dbe8"/>
<rect x="611.00" y="346.75" width="2.20" height="14.10" fill="#b7cff9"/>
<rect x="611.00" y="359.65" width="2.20" height="9.60" fill="#d2dbe8"/>
<rect x="611.00" y="368.05" width="2.20" height="13.10" fill="#e5d7cf"/>
<rect x="611.60" y="304.05" width="2.20" height="31.70" fill="#e5d7cf"/>
<rect x="611.60" y="334.55" width="2.20" height="12.50" fill="#d2dbe8"/>
<rect x="611.60" y="345.85" width="2.20" height="15.70" fill="#b7cff9"/>
<rect x="611.60" y="360.35" width="2.20" height="8.90" fill="#d2dbe8"/>
<rect x="611.60" y="368.05" width="2.20" height="13.10" fill="#e5d7cf"/>
<rect x="612.20" y="304.05" width="2.20" height="31.70" fill="#e5d7cf"/>
<rect x="612.20" y="334.55" width="2.20" height="11.60" fill="#d2dbe8"/>
<rect x="612.20" y="344.95" width="2.20" height="17.30" fill="#b7cff9"/>
<rect x="612.20" y="361.05" width="2.20" height="8.20" fill="#d2dbe8"/>
<rect x="612.20" y="368.05" width="2.20" height="13.10" fill="#e5d7cf"/>
<rect x="612.80" y="304.05" width="2.20" height="31.70" fill="#e5d7cf"/>
<rect x="612.80" y="334.55" width="2.20" height="11.00" fill="#d2dbe8"/>
<rect x="612.80" y="344.35" width="2.20" height="18.40" fill="#b7cff9"/>
<rect x="612.80" y="361.55" width="2.20" height="7.70" fill="#d2dbe8"/>
<rect x="612.80" y="368.05" width="2.20" height="13.10" fill="#e5d7cf"/>
<rect x="613.40" y="304.05" width="2.20" height="17.30" fill="#edc4ae"/>
<rect x="613.40" y="320.15" width="2.20" height="15.60" fill="#e5d7cf"/>
<rect x="613.40" y="334.55" width="2.20" height="10.50" fill="#d2dbe8"/>
<rect x="613.40" y="343.85" width="2.20" height="9.50" fill="#b7cff9"/>
<rect x="613.40" y="352.15" width="2.20" height="3.30" fill="#9bbcff"/>
<rect x="613.40" y="354.25" width="2.20" height="8.90" fill="#b7cff9"/>
<rect x="613.40" y="361.95" width="2.20" height="7.30" fill="#d2dbe8"/>
<rect x="613.40" y="368.05" width="2.20" height="13.10" fill="#e5d7cf"/>
<rect x="614.00" y="304.05" width="2.20" height="20.60" fill="#edc4ae"/>
<rect x="614.00" y="323.45" width="2.20" height="12.30" fill="#e5d7cf"/>
<rect x="614.00" y="334.55" width="2.20" height="9.60" fill="#d2dbe8"/>
<rect x="614.00" y="342.95" width="2.20" height="7.40" fill="#b7cff9"/>
<rect x="614.00" y="349.15" width="2.20" height="9.30" fill="#9bbcff"/>
<rect x="614.00" y="357.25" width="2.20" height="6.80" fill="#b7cff9"/>
<rect x="614.00" y="362.85" width="2.20" height="6.40" fill="#d2dbe8"/>
<rect x="614.00" y="368.05" width="2.20" height="13.10" fill="#e5d7cf"/>
<rect x="614.60" y="304.05" width="2.20" height="22.90" fill="#edc4ae"/>
<rect x="614.60" y="325.75" width="2.20" height="10.00" fill="#e5d7cf"/>
<rect x="614.60" y="334.55" width="2.20" height="8.80" fill="#d2dbe8"/>
<rect x="614.60" y="342.15" width="2.20" height="6.50" fill="#b7cff9"/>
<rect x="614.60" y="347.45" width="2.20" height="12.70" fill="#9bbcff"/>
<rect x="614.60" y="358.95" width="2.20" height="5.70" fill="#b7cff9"/>
<rect x="614.60" y="363.45" width="2.20" height="5.80" fill="#d2dbe8"/>
<rect x="614.60" y="368.05" width="2.20" height="13.10" fill="#e5d7cf"/>
<rect x="615.20" y="304.05" width="2.20" height="24.30" fill="#edc4ae"/>
<rect x="615.20" y="327.15" width="2.20" height="8.60" fill="#e5d7cf"/>
<rect x="615.20" y="334.55" width="2.20" height="8.20" fill="#d2dbe8"/>
<rect x="615.20" y="341.55" width="2.20" height="5.80" fill="#b7cff9"/>
<rect x="615.20" y="346.15" width="2.20" height="6.00" fill="#9bbcff"/>
<rect x="615.20" y="350.95" width="2.20" height="5.80" fill="#7ea1fa"/>
<rect x="615.20" y="355.55" width="2.20" height="5.80" fill="#9bbcff"/>
<rect x="615.20" y="360.15" width="2.20" height="4.90" fill="#b7cff9"/>
<rect x="615.20" y="363.85" width="2.20" height="5.40" fill="#d2dbe8"/>
<rect x="615.20" y="368.05" width="2.20" height="13.10" fill="#e5d7cf"/>
<rect x="615.80" y="304.05" width="2.20" height="25.40" fill="#edc4ae"/>
<rect x="615.80" y="328.25" width="2.20" height="7.50" fill="#e5d7cf"/>
<rect x="615.80" y="334.55" width="2.20" height="7.70" fill="#d2dbe8"/>
<rect x="615.80" y="341.05" width="2.20" height="5.10" fill="#b7cff9"/>
<rect x="615.80" y="344.95" width="2.20" height="5.30" fill="#9bbcff"/>
<rect x="615.80" y="349.05" width="2.20" height="9.50" fill="#7ea1fa"/>
<rect x="615.80" y="357.35" width="2.20" height="4.90" fill="#9bbcff"/>
<rect x="615.80" y="361.05" width="2.20" height="4.30" fill="#b7cff9"/>
<rect x="615.80" y="364.15" width="2.20" height="5.10" fill="#d2dbe8"/>
<rect x="615.80" y="368.05" width="2.20" height="13.10" fill="#e5d7cf"/>
<rect x="616.40" y="304.05" width="2.20" height="16.50" fill="#eca88d"/>
<rect x="616.40" y="319.35" width="2.20" height="10.80" fill="#edc4ae"/>
<rect x="616.40" y="328.95" width="2.20" height="6.80" fill="#e5d7cf"/>
<rect x="616.40" y="334.55" width="2.20" height="7.30" fill="#d2dbe8"/>
<rect x="616.40" y="340.65" width="2.20" height="4.60" fill="#b7cff9"/>
<rect x="616.40" y="344.05" width="2.20" height="5.00" fill="#9bbcff"/>
<rect x="616.40" y="347.85" width="2.20" height="11.90" fill="#7ea1fa"/>
<rect x="616.40" y="358.55" width="2.20" height="4.50" fill="#9bbcff"/>
<rect x="616.40" y="361.85" width="2.20" height="3.80" fill="#b7cff9"/>
<rect x="616.40" y="364.45" width="2.20" height="4.80" fill="#d2dbe8"/>
<rect x="616.40" y="368.05" width="2.20" height="13.10" fill="#e5d7cf"/>
<rect x="617.00" y="304.05" width="2.20" height="19.50" fill="#eca88d"/>
<rect x="617.00" y="322.35" width="2.20" height="8.30" fill="#edc4ae"/>
<rect x="617.00" y="329.45" width="2.20" height="6.30" fill="#e5d7cf"/>
<rect x="617.00" y="334.55" width="2.20" height="7.00" fill="#d2dbe8"/>
<rect x="617.00" y="340.35" width="2.20" height="4.20" fill="#b7cff9"/>
<rect x="617.00" y="343.35" width="2.20" height="4.70" fill="#9bbcff"/>
<rect x="617.00" y="346.85" width="2.20" height="4.30" fill="#7ea1fa"/>
<rect x="617.00" y="349.95" width="2.20" height="7.70" fill="#6180e9"/>
<rect x="617.00" y="356.45" width="2.20" height="4.30" fill="#7ea1fa"/>
<rect x="617.00" y="359.55" width="2.20" height="4.20" fill="#9bbcff"/>
<rect x="617.00" y="362.55" width="2.20" height="3.20" fill="#b7cff9"/>
<rect x="617.00" y="364.55" width="2.20" height="4.70" fill="#d2dbe8"/>
<rect x="617.00" y="368.05" width="2.20" height="9.20" fill="#e5d7cf"/>
<rect x="617.00" y="376.05" width="2.20" height="5.10" fill="#edc4ae"/>
<rect x="617.60" y="304.05" width="2.20" height="21.60" fill="#eca88d"/>
<rect x="617.60" y="324.45" width="2.20" height="6.60" fill="#edc4ae"/>
<rect x="617.60" y="329.85" width="2.20" height="5.90" fill="#e5d7cf"/>
<rect x="617.60" y="334.55" width="2.20" height="6.70" fill="#d2dbe8"/>
<rect x="617.60" y="340.05" width="2.20" height="3.80" fill="#b7cff9"/>
<rect x="617.60" y="342.65" width="2.20" height="4.10" fill="#9bbcff"/>
<rect x="617.60" y="345.55" width="2.20" height="4.10" fill="#7ea1fa"/>
<rect x="617.60" y="348.45" width="2.20" height="5.60" fill="#6180e9"/>
<rect x="617.60" y="352.85" width="2.20" height="1.70" fill="#465ecf"/>
<rect x="617.60" y="353.35" width="2.20" height="5.80" fill="#6180e9"/>
<rect x="617.60" y="357.95" width="2.20" height="3.80" fill="#7ea1fa"/>
<rect x="617.60" y="360.55" width="2.20" height="3.80" fill="#9bbcff"/>
<rect x="617.60" y="363.15" width="2.20" height="2.80" fill="#b7cff9"/>
<rect x="617.60" y="364.75" width="2.20" height="4.50" fill="#d2dbe8"/>
<rect x="617.60" y="368.05" width="2.20" height="6.60" fill="#e5d7cf"/>
<rect x="617.60" y="373.45" width="2.20" height="7.70" fill="#edc4ae"/>
<rect x="618.20" y="304.05" width="2.20" height="22.90" fill="#eca88d"/>
<rect x="618.20" y="325.75" width="2.20" height="5.70" fill="#edc4ae"/>
<rect x="618.20" y="330.25" width="2.20" height="5.50" fill="#e5d7cf"/>
<rect x="618.20" y="334.55" width="2.20" height="6.40" fill="#d2dbe8"/>
<rect x="618.20" y="339.75" width="2.20" height="3.60" fill="#b7cff9"/>
<rect x="618.20" y="342.15" width="2.20" height="3.60" fill="#9bbcff"/>
<rect x="618.20" y="344.55" width="2.20" height="4.10" fill="#7ea1fa"/>
<rect x="618.20" y="347.45" width="2.20" height="3.80" fill="#6180e9"/>
<rect x="618.20" y="350.05" width="2.20" height="7.60" fill="#465ecf"/>
<rect x="618.20" y="356.45" width="2.20" height="3.70" fill="#6180e9"/>
<rect x="618.20" y="358.95" width="2.20" height="3.60" fill="#7ea1fa"/>
<rect x="618.20" y="361.35" width="2.20" height="3.30" fill="#9bbcff"/>
<rect x="618.20" y="363.45" width="2.20" height="2.60" fill="#b7cff9"/>
<rect x="618.20" y="364.85" width="2.20" height="4.40" fill="#d2dbe8"/>
<rect x="618.20" y="368.05" width="2.20" height="5.40" fill="#e5d7cf"/>
<rect x="618.20" y="372.25" width="2.20" height="8.90" fill="#edc4ae"/>
<rect x="618.80" y="304.05" width="2.20" height="17.10" fill="#e4876d"/>
<rect x="618.80" y="319.95" width="2.20" height="8.10" fill="#eca88d"/>
<rect x="618.80" y="326.85" width="2.20" height="4.90" fill="#edc4ae"/>
<rect x="618.80" y="330.55" width="2.20" height="5.20" fill="#e5d7cf"/>
<rect x="618.80" y="334.55" width="2.20" height="6.20" fill="#d2dbe8"/>
<rect x="618.80" y="339.55" width="2.20" height="3.40" fill="#b7cff9"/>
<rect x="618.80" y="341.75" width="2.20" height="3.40" fill="#9bbcff"/>
<rect x="618.80" y="343.95" width="2.20" height="3.80" fill="#7ea1fa"/>
<rect x="618.80" y="346.55" width="2.20" height="3.40" fill="#6180e9"/>
<rect x="618.80" y="348.75" width="2.20" height="4.70" fill="#465ecf"/>
<rect x="618.80" y="352.25" width="2.20" height="3.00" fill="#3b4cc0"/>
<rect x="618.80" y="354.05" width="2.20" height="4.80" fill="#465ecf"/>
<rect x="618.80" y="357.65" width="2.20" height="3.30" fill="#6180e9"/>
<rect x="618.80" y="359.75" width="2.20" height="3.40" fill="#7ea1fa"/>
<rect x="618.80" y="361.95" width="2.20" height="3.00" fill="#9bbcff"/>
<rect x="618.80" y="363.75" width="2.20" height="2.40" fill="#b7cff9"/>
<rect x="618.80" y="364.95" width="2.20" height="4.30" fill="#d2dbe8"/>
<rect x="618.80" y="368.05" width="2.20" height="4.80" fill="#e5d7cf"/>
<rect x="618.80" y="371.65" width="2.20" height="9.50" fill="#edc4ae"/>
<rect x="619.40" y="304.05" width="2.20" height="19.60" fill="#e4876d"/>
<rect x="619.40" y="322.45" width="2.20" height="6.40" fill="#eca88d"/>
<rect x="619.40" y="327.65" width="2.20" height="4.40" fill="#edc4ae"/>
<rect x="619.40" y="330.85" width="2.20" height="4.90" fill="#e5d7cf"/>
<rect x="619.40" y="334.55" width="2.20" height="6.00" fill="#d2dbe8"/>
<rect x="619.40" y="339.35" width="2.20" height="3.20" fill="#b7cff9"/>
<rect x="619.40" y="341.35" width="2.20" height="3.20" fill="#9bbcff"/>
<rect x="619.40" y="343.35" width="2.20" height="3.40" fill="#7ea1fa"/>
<rect x="619.40" y="345.55" width="2.20" height="3.40" fill="#6180e9"/>
<rect x="619.40" y="347.75" width="2.20" height="3.40" fill="#465ecf"/>
<rect x="619.40" y="349.95" width="2.20" height="7.80" fill="#3b4cc0"/>
<rect x="619.40" y="356.55" width="2.20" height="3.30" fill="#465ecf"/>
<rect x="619.40" y="358.65" width="2.20" height="3.10" fill="#6180e9"/>
<rect x="619.40" y="360.55" width="2.20" height="3.20" fill="#7ea1fa"/>
<rect x="619.40" y="362.55" width="2.20" height="2.70" fill="#9bbcff"/>
<rect x="619.40" y="364.05" width="2.20" height="2.20" fill="#b7cff9"/>
<rect x="619.40" y="365.05" width="2.20" height="4.20" fill="#d2dbe8"/>
<rect x="619.40" y="368.05" width="2.20" height="4.60" fill="#e5d7cf"/>
<rect x="619.40" y="371.45" width="2.20" height="9.70" fill="#edc4ae"/>
<rect x="620.00" y="304.05" width="2.20" height="21.10" fill="#e4876d"/>
<rect x="620.00" y="323.95" width="2.20" height="5.70" fill="#eca88d"/>
<rect x="620.00" y="328.45" width="2.20" height="3.80" fill="#edc4ae"/>
<rect x="620.00" y="331.05" width="2.20" height="4.70" fill="#e5d7cf"/>
<rect x="620.00" y="334.55" width="2.20" height="5.90" fill="#d2dbe8"/>
<rect x="620.00" y="339.25" width="2.20" height="2.90" fill="#b7cff9"/>
<rect x="620.00" y="340.95" width="2.20" height="3.10" fill="#9bbcff"/>
<rect x="620.00" y="342.85" width="2.20" height="3.10" fill="#7ea1fa"/>
<rect x="620.00" y="344.75" width="2.20" height="3.50" fill="#6180e9"/>
<rect x="620.00" y="347.05" width="2.20" height="3.00" fill="#465ecf"/>
<rect x="620.00" y="348.85" width="2.20" height="10.00" fill="#3b4cc0"/>
<rect x="620.00" y="357.65" width="2.20" height="2.90" fill="#465ecf"/>
<rect x="620.00" y="359.35" width="2.20" height="3.10" fill="#6180e9"/>
<rect x="620.00" y="361.25" width="2.20" height="2.90" fill="#7ea1fa"/>
<rect x="620.00" y="362.95" width="2.20" height="2.50" fill="#9bbcff"/>
<rect x="620.00" y="364.25" width="2.20" height="2.10" fill="#b7cff9"/>
<rect x="620.00" y="365.15" width="2.20" height="4.10" fill="#d2dbe8"/>
<rect x="620.00" y="368.05" width="2.20" height="4.50" fill="#e5d7cf"/>
<rect x="620.00" y="371.35" width="2.20" height="9.80" fill="#edc4ae"/>
<rect x="620.60" y="304.05" width="2.20" height="16.00" fill="#d6624f"/>
<rect x="620.60" y="318.85" width="2.20" height="7.50" fill="#e4876d"/>
<rect x="620.60" y="325.15" width="2.20" height="4.90" fill="#eca88d"/>
<rect x="620.60" y="328.85" width="2.20" height="3.60" fill="#edc4ae"/>
<rect x="620.60" y="331.25" width="2.20" height="4.50" fill="#e5d7cf"/>
<rect x="620.60" y="334.55" width="2.20" height="5.60" fill="#d2dbe8"/>
<rect x="620.60" y="338.95" width="2.20" height="3.00" fill="#b7cff9"/>
<rect x="620.60" y="340.75" width="2.20" height="2.90" fill="#9bbcff"/>
<rect x="620.60" y="342.45" width="2.20" height="2.90" fill="#7ea1fa"/>
<rect x="620.60" y="344.15" width="2.20" height="3.20" fill="#6180e9"/>
<rect x="620.60" y="346.15" width="2.20" height="3.00" fill="#465ecf"/>
<rect x="620.60" y="347.95" width="2.20" height="11.70" fill="#3b4cc0"/>
<rect x="620.60" y="358.45" width="2.20" height="2.80" fill="#465ecf"/>
<rect x="620.60" y="360.05" width="2.20" height="2.90" fill="#6180e9"/>
<rect x="620.60" y="361.75" width="2.20" height="2.70" fill="#7ea1fa"/>
<rect x="620.60" y="363.25" width="2.20" height="2.30" fill="#9bbcff"/>
<rect x="620.60" y="364.35" width="2.20" height="2.20" fill="#b7cff9"/>
<rect x="620.60" y="365.35" width="2.20" height="3.90" fill="#d2dbe8"/>
<rect x="620.60" y="368.05" width="2.20" height="4.30" fill="#e5d7cf"/>
<rect x="620.60" y="371.15" width="2.20" height="10.00" fill="#edc4ae"/>
<rect x="621.20" y="304.05" width="2.20" height="18.30" fill="#d6624f"/>
<rect x="621.20" y="321.15" width="2.20" height="6.00" fill="#e4876d"/>
<rect x="621.20" y="325.95" width="2.20" height="4.40" fill="#eca88d"/>
<rect x="621.20" y="329.15" width="2.20" height="3.60" fill="#edc4ae"/>
<rect x="621.20" y="331.55" width="2.20" height="4.20" fill="#e5d7cf"/>
<rect x="621.20" y="334.55" width="2.20" height="5.30" fill="#d2dbe8"/>
<rect x="621.20" y="338.65" width="2.20" height="3.00" fill="#b7cff9"/>
<rect x="621.20" y="340.45" width="2.20" height="2.80" fill="#9bbcff"/>
<rect x="621.20" y="342.05" width="2.20" height="2.80" fill="#7ea1fa"/>
<rect x="621.20" y="343.65" width="2.20" height="3.00" fill="#6180e9"/>
<rect x="621.20" y="345.45" width="2.20" height="3.00" fill="#465ecf"/>
<rect x="621.20" y="347.25" width="2.20" height="13.10" fill="#3b4cc0"/>
<rect x="621.20" y="359.15" width="2.20" height="2.70" fill="#465ecf"/>
<rect x="621.20" y="360.65" width="2.20" height="2.80" fill="#6180e9"/>
<rect x="621.20" y="362.25" width="2.20" height="2.50" fill="#7ea1fa"/>
<rect x="621.20" y="363.55" width="2.20" height="2.20" fill="#9bbcff"/>
<rect x="621.20" y="364.55" width="2.20" height="2.20" fill="#b7cff9"/>
<rect x="621.20" y="365.55" width="2.20" height="3.70" fill="#d2dbe8"/>
<rect x="621.20" y="368.05" width="2.20" height="4.10" fill="#e5d7cf"/>
<rect x="621.20" y="370.95" width="2.20" height="10.20" fill="#edc4ae"/>
<rect x="621.80" y="304.05" width="2.20" height="19.80" fill="#d6624f"/>
<rect x="621.80" y="322.65" width="2.20" height="5.20" fill="#e4876d"/>
<rect x="621.80" y="326.65" width="2.20" height="4.00" fill="#eca88d"/>
<rect x="621.80" y="329.45" width="2.20" height="3.40" fill="#edc4ae"/>
<rect x="621.80" y="331.65" width="2.20" height="4.10" fill="#e5d7cf"/>
<rect x="621.80" y="334.55" width="2.20" height="5.00" fill="#d2dbe8"/>
<rect x="621.80" y="338.35" width="2.20" height="3.20" fill="#b7cff9"/>
<rect x="621.80" y="340.35" width="2.20" height="2.60" fill="#9bbcff"/>
<rect x="621.80" y="341.75" width="2.20" height="2.70" fill="#7ea1fa"/>
<rect x="621.80" y="343.25" width="2.20" height="2.70" fill="#6180e9"/>
<rect x="621.80" y="344.75" width="2.20" height="3.10" fill="#465ecf"/>
<rect x="621.80" y="346.65" width="2.20" height="14.20" fill="#3b4cc0"/>
<rect x="621.80" y="359.65" width="2.20" height="2.70" fill="#465ecf"/>
<rect x="621.80" y="361.15" width="2.20" height="2.60" fill="#6180e9"/>
<rect x="621.80" y="362.55" width="2.20" height="2.40" fill="#7ea1fa"/>
<rect x="621.80" y="363.75" width="2.20" height="2.10" fill="#9bbcff"/>
<rect x="621.80" y="364.65" width="2.20" height="2.30" fill="#b7cff9"/>
<rect x="621.80" y="365.75" width="2.20" height="3.50" fill="#d2dbe8"/>
<rect x="621.80" y="368.05" width="2.20" height="3.90" fill="#e5d7cf"/>
<rect x="621.80" y="370.75" width="2.20" height="6.10" fill="#edc4ae"/>
<rect x="621.80" y="375.65" width="2.20" height="5.50" fill="#eca88d"/>
<rect x="622.40" y="304.05" width="2.20" height="10.50" fill="#d6624f"/>
<rect x="622.40" y="313.35" width="2.20" height="3.70" fill="#c33034"/>
<rect x="622.40" y="315.85" width="2.20" height="9.10" fill="#d6624f"/>
<rect x="622.40" y="323.75" width="2.20" height="4.70" fill="#e4876d"/>
<rect x="622.40" y="327.25" width="2.20" height="3.70" fill="#eca88d"/>
<rect x="622.40" y="329.75" width="2.20" height="3.30" fill="#edc4ae"/>
<rect x="622.40" y="331.85" width="2.20" height="3.90" fill="#e5d7cf"/>
<rect x="622.40" y="334.55" width="2.20" height="4.80" fill="#d2dbe8"/>
<rect x="622.40" y="338.15" width="2.20" height="3.20" fill="#b7cff9"/>
<rect x="622.40" y="340.15" width="2.20" height="2.50" fill="#9bbcff"/>
<rect x="622.40" y="341.45" width="2.20" height="2.60" fill="#7ea1fa"/>
<rect x="622.40" y="342.85" width="2.20" height="2.60" fill="#6180e9"/>
<rect x="622.40" y="344.25" width="2.20" height="3.00" fill="#465ecf"/>
<rect x="622.40" y="346.05" width="2.20" height="15.40" fill="#3b4cc0"/>
<rect x="622.40" y="360.25" width="2.20" height="2.60" fill="#465ecf"/>
<rect x="622.40" y="361.65" width="2.20" height="2.50" fill="#6180e9"/>
<rect x="622.40" y="362.95" width="2.20" height="2.20" fill="#7ea1fa"/>
<rect x="622.40" y="363.95" width="2.20" height="2.00" fill="#9bbcff"/>
<rect x="622.40" y="364.75" width="2.20" height="2.30" fill="#b7cff9"/>
<rect x="622.40" y="365.85" width="2.20" height="3.40" fill="#d2dbe8"/>
<rect x="622.40" y="368.05" width="2.20" height="3.70" fill="#e5d7cf"/>
<rect x="622.40" y="370.55" width="2.20" height="4.60" fill="#edc4ae"/>
<rect x="622.40" y="373.95" width="2.20" height="7.20" fill="#eca88d"/>
<rect x="623.00" y="304.05" width="2.20" height="17.20" fill="#c33034"/>
<rect x="623.00" y="320.05" width="2.20" height="5.90" fill="#d6624f"/>
<rect x="623.00" y="324.75" width="2.20" height="4.30" fill="#e4876d"/>
<rect x="623.00" y="327.85" width="2.20" height="3.30" fill="#eca88d"/>
<rect x="623.00" y="329.95" width="2.20" height="3.30" fill="#edc4ae"/>
<rect x="623.00" y="332.05" width="2.20" height="3.70" fill="#e5d7cf"/>
<rect x="623.00" y="334.55" width="2.20" height="4.60" fill="#d2dbe8"/>
<rect x="623.00" y="337.95" width="2.20" height="3.20" fill="#b7cff9"/>
<rect x="623.00" y="339.95" width="2.20" height="2.50" fill="#9bbcff"/>
<rect x="623.00" y="341.25" width="2.20" height="2.50" fill="#7ea1fa"/>
<rect x="623.00" y="342.55" width="2.20" height="2.50" fill="#6180e9"/>
<rect x="623.00" y="343.85" width="2.20" height="2.80" fill="#465ecf"/>
<rect x="623.00" y="345.45" width="2.20" height="16.40" fill="#3b4cc0"/>
<rect x="623.00" y="360.65" width="2.20" height="2.50" fill="#465ecf"/>
<rect x="623.00" y="361.95" width="2.20" height="2.40" fill="#6180e9"/>
<rect x="623.00" y="363.15" width="2.20" height="2.10" fill="#7ea1fa"/>
<rect x="623.00" y="364.05" width="2.20" height="1.90" fill="#9bbcff"/>
<rect x="623.00" y="364.75" width="2.20" height="2.40" fill="#b7cff9"/>
<rect x="623.00" y="365.95" width="2.20" height="3.30" fill="#d2dbe8"/>
<rect x="623.00" y="368.05" width="2.20" height="3.60" fill="#e5d7cf"/>
<rect x="623.00" y="370.45" width="2.20" height="4.00" fill="#edc4ae"/>
<rect x="623.00" y="373.25" width="2.20" height="7.90" fill="#eca88d"/>
<rect x="623.60" y="304.05" width="2.20" height="18.70" fill="#c33034"/>
<rect x="623.60" y="321.55" width="2.20" height="5.00" fill="#d6624f"/>
<rect x="623.60" y="325.35" width="2.20" height="4.10" fill="#e4876d"/>
<rect x="623.60" y="328.25" width="2.20" height="3.10" fill="#eca88d"/>
<rect x="623.60" y="330.15" width="2.20" height="3.20" fill="#edc4ae"/>
<rect x="623.60" y="332.15" width="2.20" height="3.60" fill="#e5d7cf"/>
<rect x="623.60" y="334.55" width="2.20" height="4.40" fill="#d2dbe8"/>
<rect x="623.60" y="337.75" width="2.20" height="3.30" fill="#b7cff9"/>
<rect x="623.60" y="339.85" width="2.20" height="2.40" fill="#9bbcff"/>
<rect x="623.60" y="341.05" width="2.20" height="2.40" fill="#7ea1fa"/>
<rect x="623.60" y="342.25" width="2.20" height="2.50" fill="#6180e9"/>
<rect x="623.60" y="343.55" width="2.20" height="2.50" fill="#465ecf"/>
<rect x="623.60" y="344.85" width="2.20" height="17.50" fill="#3b4cc0"/>
<rect x="623.60" y="361.15" width="2.20" height="2.40" fill="#465ecf"/>
<rect x="623.60" y="362.35" width="2.20" height="2.20" fill="#6180e9"/>
<rect x="623.60" y="363.35" width="2.20" height="2.10" fill="#7ea1fa"/>
<rect x="623.60" y="364.25" width="2.20" height="1.80" fill="#9bbcff"/>
<rect x="623.60" y="364.85" width="2.20" height="2.40" fill="#b7cff9"/>
<rect x="623.60" y="366.05" width="2.20" height="3.20" fill="#d2dbe8"/>
<rect x="623.60" y="368.05" width="2.20" height="3.50" fill="#e5d7cf"/>
<rect x="623.60" y="370.35" width="2.20" height="3.40" fill="#edc4ae"/>
<rect x="623.60" y="372.55" width="2.20" height="8.60" fill="#eca88d"/>
<rect x="624.20" y="304.05" width="2.20" height="19.90" fill="#c33034"/>
<rect x="624.20" y="322.75" width="2.20" height="4.50" fill="#d6624f"/>
<rect x="624.20" y="326.05" width="2.20" height="3.80" fill="#e4876d"/>
<rect x="624.20" y="328.65" width="2.20" height="2.90" fill="#eca88d"/>
<rect x="624.20" y="330.35" width="2.20" height="3.10" fill="#edc4ae"/>
<rect x="624.20" y="332.25" width="2.20" height="3.50" fill="#e5d7cf"/>
<rect x="624.20" y="334.55" width="2.20" height="4.20" fill="#d2dbe8"/>
<rect x="624.20" y="337.55" width="2.20" height="3.40" fill="#b7cff9"/>
<rect x="624.20" y="339.75" width="2.20" height="2.30" fill="#9bbcff"/>
<rect x="624.20" y="340.85" width="2.20" height="2.40" fill="#7ea1fa"/>
<rect x="624.20" y="342.05" width="2.20" height="2.40" fill="#6180e9"/>
<rect x="624.20" y="343.25" width="2.20" height="2.40" fill="#465ecf"/>
<rect x="624.20" y="344.45" width="2.20" height="18.20" fill="#3b4cc0"/>
<rect x="624.20" y="361.45" width="2.20" height="2.30" fill="#465ecf"/>
<rect x="624.20" y="362.55" width="2.20" height="2.20" fill="#6180e9"/>
<rect x="624.20" y="363.55" width="2.20" height="2.00" fill="#7ea1fa"/>
<rect x="624.20" y="364.35" width="2.20" height="1.80" fill="#9bbcff"/>
<rect x="624.20" y="364.95" width="2.20" height="2.40" fill="#b7cff9"/>
<rect x="624.20" y="366.15" width="2.20" height="3.10" fill="#d2dbe8"/>
<rect x="624.20" y="368.05" width="2.20" height="3.40" fill="#e5d7cf"/>
<rect x="624.20" y="370.25" width="2.20" height="3.00" fill="#edc4ae"/>
<rect x="624.20" y="372.05" width="2.20" height="9.10" fill="#eca88d"/>
<rect x="624.80" y="304.05" width="2.20" height="16.40" fill="#b20a2a"/>
<rect x="624.80" y="319.25" width="2.20" height="5.60" fill="#c33034"/>
<rect x="624.80" y="323.65" width="2.20" height="4.10" fill="#d6624f"/>
<rect x="624.80" y="326.55" width="2.20" height="3.50" fill="#e4876d"/>
<rect x="624.80" y="328.85" width="2.20" height="2.80" fill="#eca88d"/>
<rect x="624.80" y="330.45" width="2.20" height="3.10" fill="#edc4ae"/>
<rect x="624.80" y="332.35" width="2.20" height="3.40" fill="#e5d7cf"/>
<rect x="624.80" y="334.55" width="2.20" height="4.10" fill="#d2dbe8"/>
<rect x="624.80" y="337.45" width="2.20" height="3.40" fill="#b7cff9"/>
<rect x="624.80" y="339.65" width="2.20" height="2.30" fill="#9bbcff"/>
<rect x="624.80" y="340.75" width="2.20" height="2.30" fill="#7ea1fa"/>
<rect x="624.80" y="341.85" width="2.20" height="2.30" fill="#6180e9"/>
<rect x="624.80" y="342.95" width="2.20" height="2.30" fill="#465ecf"/>
<rect x="624.80" y="344.05" width="2.20" height="18.90" fill="#3b4cc0"/>
<rect x="624.80" y="361.75" width="2.20" height="2.30" fill="#465ecf"/>
<rect x="624.80" y="362.85" width="2.20" height="2.00" fill="#6180e9"/>
<rect x="624.80" y="363.65" width="2.20" height="2.00" fill="#7ea1fa"/>
<rect x="624.80" y="364.45" width="2.20" height="1.70" fill="#9bbcff"/>
<rect x="624.80" y="364.95" width="2.20" height="2.50" fill="#b7cff9"/>
<rect x="624.80" y="366.25" width="2.20" height="3.00" fill="#d2dbe8"/>
<rect x="624.80" y="368.05" width="2.20" height="3.30" fill="#e5d7cf"/>
<rect x="624.80" y="370.15" width="2.20" height="2.80" fill="#edc4ae"/>
<rect x="624.80" y="371.75" width="2.20" height="9.40" fill="#eca88d"/>
<rect x="625.40" y="304.05" width="2.20" height="17.70" fill="#b20a2a"/>
<rect x="625.40" y="320.55" width="2.20" height="5.10" fill="#c33034"/>
<rect x="625.40" y="324.45" width="2.20" height="3.80" fill="#d6624f"/>
<rect x="625.40" y="327.05" width="2.20" height="3.30" fill="#e4876d"/>
<rect x="625.40" y="329.15" width="2.20" height="2.70" fill="#eca88d"/>
<rect x="625.40" y="330.65" width="2.20" height="3.00" fill="#edc4ae"/>
<rect x="625.40" y="332.45" width="2.20" height="3.30" fill="#e5d7cf"/>
<rect x="625.40" y="334.55" width="2.20" height="4.00" fill="#d2dbe8"/>
<rect x="625.40" y="337.35" width="2.20" height="3.40" fill="#b7cff9"/>
<rect x="625.40" y="339.55" width="2.20" height="2.20" fill="#9bbcff"/>
<rect x="625.40" y="340.55" width="2.20" height="2.30" fill="#7ea1fa"/>
<rect x="625.40" y="341.65" width="2.20" height="2.20" fill="#6180e9"/>
<rect x="625.40" y="342.65" width="2.20" height="2.30" fill="#465ecf"/>
<rect x="625.40" y="343.75" width="2.20" height="19.50" fill="#3b4cc0"/>
<rect x="625.40" y="362.05" width="2.20" height="2.30" fill="#465ecf"/>
<rect x="625.40" y="363.15" width="2.20" height="1.90" fill="#6180e9"/>
<rect x="625.40" y="363.85" width="2.20" height="1.80" fill="#7ea1fa"/>
<rect x="625.40" y="364.45" width="2.20" height="1.80" fill="#9bbcff"/>
<rect x="625.40" y="365.05" width="2.20" height="2.50" fill="#b7cff9"/>
<rect x="625.40" y="366.35" width="2.20" height="2.90" fill="#d2dbe8"/>
<rect x="625.40" y="368.05" width="2.20" height="3.20" fill="#e5d7cf"/>
<rect x="625.40" y="370.05" width="2.20" height="2.80" fill="#edc4ae"/>
<rect x="625.40" y="371.65" width="2.20" height="9.50" fill="#eca88d"/>
<rect x="626.00" y="304.05" width="2.20" height="19.50" fill="#b20a2a"/>
<rect x="626.00" y="322.35" width="2.20" height="4.20" fill="#c33034"/>
<rect x="626.00" y="325.35" width="2.20" height="3.50" fill="#d6624f"/>
<rect x="626.00" y="327.65" width="2.20" height="3.00" fill="#e4876d"/>
<rect x="626.00" y="329.45" width="2.20" height="2.60" fill="#eca88d"/>
<rect x="626.00" y="330.85" width="2.20" height="3.00" fill="#edc4ae"/>
<rect x="626.00" y="332.65" width="2.20" height="3.10" fill="#e5d7cf"/>
<rect x="626.00" y="334.55" width="2.20" height="3.80" fill="#d2dbe8"/>
<rect x="626.00" y="337.15" width="2.20" height="3.40" fill="#b7cff9"/>
<rect x="626.00" y="339.35" width="2.20" height="2.20" fill="#9bbcff"/>
<rect x="626.00" y="340.35" width="2.20" height="2.20" fill="#7ea1fa"/>
<rect x="626.00" y="341.35" width="2.20" height="2.20" fill="#6180e9"/>
<rect x="626.00" y="342.35" width="2.20" height="2.20" fill="#465ecf"/>
<rect x="626.00" y="343.35" width="2.20" height="20.40" fill="#3b4cc0"/>
<rect x="626.00" y="362.55" width="2.20" height="2.00" fill="#465ecf"/>
<rect x="626.00" y="363.35" width="2.20" height="1.90" fill="#6180e9"/>
<rect x="626.00" y="364.05" width="2.20" height="1.70" fill="#7ea1fa"/>
<rect x="626.00" y="364.55" width="2.20" height="1.70" fill="#9bbcff"/>
<rect x="626.00" y="365.05" width="2.20" height="2.60" fill="#b7cff9"/>
<rect x="626.00" y="366.45" width="2.20" height="2.80" fill="#d2dbe8"/>
<rect x="626.00" y="368.05" width="2.20" height="3.00" fill="#e5d7cf"/>
<rect x="626.00" y="369.85" width="2.20" height="2.90" fill="#edc4ae"/>
<rect x="626.00" y="371.55" width="2.20" height="5.70" fill="#eca88d"/>
<rect x="626.00" y="376.05" width="2.20" height="5.10" fill="#e4876d"/>
<rect x="626.60" y="304.05" width="2.20" height="20.80" fill="#b20a2a"/>
<rect x="626.60" y="323.65" width="2.20" height="3.70" fill="#c33034"/>
<rect x="626.60" y="326.15" width="2.20" height="3.30" fill="#d6624f"/>
<rect x="626.60" y="328.25" width="2.20" height="2.60" fill="#e4876d"/>
<rect x="626.60" y="329.65" width="2.20" height="2.50" fill="#eca88d"/>
<rect x="626.60" y="330.95" width="2.20" height="3.00" fill="#edc4ae"/>
<rect x="626.60" y="332.75" width="2.20" height="3.00" fill="#e5d7cf"/>
<rect x="626.60" y="334.55" width="2.20" height="3.60" fill="#d2dbe8"/>
<rect x="626.60" y="336.95" width="2.20" height="3.50" fill="#b7cff9"/>
<rect x="626.60" y="339.25" width="2.20" height="2.10" fill="#9bbcff"/>
<rect x="626.60" y="340.15" width="2.20" height="2.10" fill="#7ea1fa"/>
<rect x="626.60" y="341.05" width="2.20" height="2.20" fill="#6180e9"/>
<rect x="626.60" y="342.05" width="2.20" height="2.10" fill="#465ecf"/>
<rect x="626.60" y="342.95" width="2.20" height="21.10" fill="#3b4cc0"/>
<rect x="626.60" y="362.85" width="2.20" height="1.90" fill="#465ecf"/>
<rect x="626.60" y="363.55" width="2.20" height="1.80" fill="#6180e9"/>
<rect x="626.60" y="364.15" width="2.20" height="1.70" fill="#7ea1fa"/>
<rect x="626.60" y="364.65" width="2.20" height="1.70" fill="#9bbcff"/>
<rect x="626.60" y="365.15" width="2.20" height="2.60" fill="#b7cff9"/>
<rect x="626.60" y="366.55" width="2.20" height="2.70" fill="#d2dbe8"/>
<rect x="626.60" y="368.05" width="2.20" height="2.90" fill="#e5d7cf"/>
<rect x="626.60" y="369.75" width="2.20" height="2.80" fill="#edc4ae"/>
<rect x="626.60" y="371.35" width="2.20" height="4.00" fill="#eca88d"/>
<rect x="626.60" y="374.15" width="2.20" height="7.00" fill="#e4876d"/>
<rect x="627.20" y="304.05" width="2.20" height="21.80" fill="#b20a2a"/>
<rect x="627.20" y="324.65" width="2.20" height="3.30" fill="#c33034"/>
<rect x="627.20" y="326.75" width="2.20" height="3.10" fill="#d6624f"/>
<rect x="627.20" y="328.65" width="2.20" height="2.50" fill="#e4876d"/>
<rect x="627.20" y="329.95" width="2.20" height="2.40" fill="#eca88d"/>
<rect x="627.20" y="331.15" width="2.20" height="2.90" fill="#edc4ae"/>
<rect x="627.20" y="332.85" width="2.20" height="2.90" fill="#e5d7cf"/>
<rect x="627.20" y="334.55" width="2.20" height="3.50" fill="#d2dbe8"/>
<rect x="627.20" y="336.85" width="2.20" height="3.50" fill="#b7cff9"/>
<rect x="627.20" y="339.15" width="2.20" height="2.10" fill="#9bbcff"/>
<rect x="627.20" y="340.05" width="2.20" height="2.00" fill="#7ea1fa"/>
<rect x="627.20" y="340.85" width="2.20" height="2.10" fill="#6180e9"/>
<rect x="627.20" y="341.75" width="2.20" height="2.10" fill="#465ecf"/>
<rect x="627.20" y="342.65" width="2.20" height="21.70" fill="#3b4cc0"/>
<rect x="627.20" y="363.15" width="2.20" height="1.80" fill="#465ecf"/>
<rect x="627.20" y="363.75" width="2.20" height="1.80" fill="#6180e9"/>
<rect x="627.20" y="364.35" width="2.20" height="1.60" fill="#7ea1fa"/>
<rect x="627.20" y="364.75" width="2.20" height="1.70" fill="#9bbcff"/>
<rect x="627.20" y="365.25" width="2.20" height="2.60" fill="#b7cff9"/>
<rect x="627.20" y="366.65" width="2.20" height="2.60" fill="#d2dbe8"/>
<rect x="627.20" y="368.05" width="2.20" height="2.80" fill="#e5d7cf"/>
<rect x="627.20" y="369.65" width="2.20" height="2.80" fill="#edc4ae"/>
<rect x="627.20" y="371.25" width="2.20" height="3.20" fill="#eca88d"/>
<rect x="627.20" y="373.25" width="2.20" height="7.90" fill="#e4876d"/>
<rect x="627.80" y="304.05" width="2.20" height="22.50" fill="#b20a2a"/>
<rect x="627.80" y="325.35" width="2.20" height="3.20" fill="#c33034"/>
<rect x="627.80" y="327.35" width="2.20" height="2.80" fill="#d6624f"/>
<rect x="627.80" y="328.95" width="2.20" height="2.40" fill="#e4876d"/>
<rect x="627.80" y="330.15" width="2.20" height="2.40" fill="#eca88d"/>
<rect x="627.80" y="331.35" width="2.20" height="2.80" fill="#edc4ae"/>
<rect x="627.80" y="332.95" width="2.20" height="2.80" fill="#e5d7cf"/>
<rect x="627.80" y="334.55" width="2.20" height="3.30" fill="#d2dbe8"/>
<rect x="627.80" y="336.65" width="2.20" height="3.40" fill="#b7cff9"/>
<rect x="627.80" y="338.85" width="2.20" height="2.20" fill="#9bbcff"/>
<rect x="627.80" y="339.85" width="2.20" height="2.00" fill="#7ea1fa"/>
<rect x="627.80" y="340.65" width="2.20" height="2.00" fill="#6180e9"/>
<rect x="627.80" y="341.45" width="2.20" height="2.10" fill="#465ecf"/>
<rect x="627.80" y="342.35" width="2.20" height="22.20" fill="#3b4cc0"/>
<rect x="627.80" y="363.35" width="2.20" height="1.80" fill="#465ecf"/>
<rect x="627.80" y="363.95" width="2.20" height="1.70" fill="#6180e9"/>
<rect x="627.80" y="364.45" width="2.20" height="1.60" fill="#7ea1fa"/>
<rect x="627.80" y="364.85" width="2.20" height="1.80" fill="#9bbcff"/>
<rect x="627.80" y="365.45" width="2.20" height="2.50" fill="#b7cff9"/>
<rect x="627.80" y="366.75" width="2.20" height="2.50" fill="#d2dbe8"/>
<rect x="627.80" y="368.05" width="2.20" height="2.70" fill="#e5d7cf"/>
<rect x="627.80" y="369.55" width="2.20" height="2.70" fill="#edc4ae"/>
<rect x="627.80" y="371.05" width="2.20" height="2.80" fill="#eca88d"/>
<rect x="627.80" y="372.65" width="2.20" height="8.50" fill="#e4876d"/>
<rect x="628.40" y="304.05" width="2.20" height="23.20" fill="#b20a2a"/>
<rect x="628.40" y="326.05" width="2.20" height="3.00" fill="#c33034"/>
<rect x="628.40" y="327.85" width="2.20" height="2.60" fill="#d6624f"/>
<rect x="628.40" y="329.25" width="2.20" height="2.30" fill="#e4876d"/>
<rect x="628.40" y="330.35" width="2.20" height="2.40" fill="#eca88d"/>
<rect x="628.40" y="331.55" width="2.20" height="2.70" fill="#edc4ae"/>
<rect x="628.40" y="333.05" width="2.20" height="2.70" fill="#e5d7cf"/>
<rect x="628.40" y="334.55" width="2.20" height="3.20" fill="#d2dbe8"/>
<rect x="628.40" y="336.55" width="2.20" height="3.30" fill="#b7cff9"/>
<rect x="628.40" y="338.65" width="2.20" height="2.30" fill="#9bbcff"/>
<rect x="628.40" y="339.75" width="2.20" height="1.90" fill="#7ea1fa"/>
<rect x="628.40" y="340.45" width="2.20" height="2.00" fill="#6180e9"/>
<rect x="628.40" y="341.25" width="2.20" height="2.00" fill="#465ecf"/>
<rect x="628.40" y="342.05" width="2.20" height="22.70" fill="#3b4cc0"/>
<rect x="628.40" y="363.55" width="2.20" height="1.70" fill="#465ecf"/>
<rect x="628.40" y="364.05" width="2.20" height="1.70" fill="#6180e9"/>
<rect x="628.40" y="364.55" width="2.20" height="1.60" fill="#7ea1fa"/>
<rect x="628.40" y="364.95" width="2.20" height="1.80" fill="#9bbcff"/>
<rect x="628.40" y="365.55" width="2.20" height="2.50" fill="#b7cff9"/>
<rect x="628.40" y="366.85" width="2.20" height="2.40" fill="#d2dbe8"/>
<rect x="628.40" y="368.05" width="2.20" height="2.70" fill="#e5d7cf"/>
<rect x="628.40" y="369.55" width="2.20" height="2.60" fill="#edc4ae"/>
<rect x="628.40" y="370.95" width="2.20" height="2.30" fill="#eca88d"/>
<rect x="628.40" y="372.05" width="2.20" height="9.10" fill="#e4876d"/>
<rect x="629.00" y="304.05" width="2.20" height="23.60" fill="#b20a2a"/>
<rect x="629.00" y="326.45" width="2.20" height="2.90" fill="#c33034"/>
<rect x="629.00" y="328.15" width="2.20" height="2.40" fill="#d6624f"/>
<rect x="629.00" y="329.35" width="2.20" height="2.30" fill="#e4876d"/>
<rect x="629.00" y="330.45" width="2.20" height="2.40" fill="#eca88d"/>
<rect x="629.00" y="331.65" width="2.20" height="2.60" fill="#edc4ae"/>
<rect x="629.00" y="333.05" width="2.20" height="2.70" fill="#e5d7cf"/>
<rect x="629.00" y="334.55" width="2.20" height="3.10" fill="#d2dbe8"/>
<rect x="629.00" y="336.45" width="2.20" height="3.20" fill="#b7cff9"/>
<rect x="629.00" y="338.45" width="2.20" height="2.40" fill="#9bbcff"/>
<rect x="629.00" y="339.65" width="2.20" height="1.90" fill="#7ea1fa"/>
<rect x="629.00" y="340.35" width="2.20" height="2.00" fill="#6180e9"/>
<rect x="629.00" y="341.15" width="2.20" height="1.90" fill="#465ecf"/>
<rect x="629.00" y="341.85" width="2.20" height="23.00" fill="#3b4cc0"/>
<rect x="629.00" y="363.65" width="2.20" height="1.70" fill="#465ecf"/>
<rect x="629.00" y="364.15" width="2.20" height="1.60" fill="#6180e9"/>
<rect x="629.00" y="364.55" width="2.20" height="1.60" fill="#7ea1fa"/>
<rect x="629.00" y="364.95" width="2.20" height="1.90" fill="#9bbcff"/>
<rect x="629.00" y="365.65" width="2.20" height="2.40" fill="#b7cff9"/>
<rect x="629.00" y="366.85" width="2.20" height="2.40" fill="#d2dbe8"/>
<rect x="629.00" y="368.05" width="2.20" height="2.60" fill="#e5d7cf"/>
<rect x="629.00" y="369.45" width="2.20" height="2.60" fill="#edc4ae"/>
<rect x="629.00" y="370.85" width="2.20" height="2.10" fill="#eca88d"/>
<rect x="629.00" y="371.75" width="2.20" height="5.80" fill="#e4876d"/>
<rect x="629.00" y="376.35" width="2.20" height="4.80" fill="#d6624f"/>
<rect x="629.60" y="304.05" width="2.20" height="23.90" fill="#b20a2a"/>
<rect x="629.60" y="326.75" width="2.20" height="2.80" fill="#c33034"/>
<rect x="629.60" y="328.35" width="2.20" height="2.30" fill="#d6624f"/>
<rect x="629.60" y="329.45" width="2.20" height="2.30" fill="#e4876d"/>
<rect x="629.60" y="330.55" width="2.20" height="2.40" fill="#eca88d"/>
<rect x="629.60" y="331.75" width="2.20" height="2.60" fill="#edc4ae"/>
<rect x="629.60" y="333.15" width="2.20" height="2.60" fill="#e5d7cf"/>
<rect x="629.60" y="334.55" width="2.20" height="3.10" fill="#d2dbe8"/>
<rect x="629.60" y="336.45" width="2.20" height="3.10" fill="#b7cff9"/>
<rect x="629.60" y="338.35" width="2.20" height="2.40" fill="#9bbcff"/>
<rect x="629.60" y="339.55" width="2.20" height="1.90" fill="#7ea1fa"/>
<rect x="629.60" y="340.25" width="2.20" height="1.90" fill="#6180e9"/>
<rect x="629.60" y="340.95" width="2.20" height="2.00" fill="#465ecf"/>
<rect x="629.60" y="341.75" width="2.20" height="23.20" fill="#3b4cc0"/>
<rect x="629.60" y="363.75" width="2.20" height="1.70" fill="#465ecf"/>
<rect x="629.60" y="364.25" width="2.20" height="1.60" fill="#6180e9"/>
<rect x="629.60" y="364.65" width="2.20" height="1.50" fill="#7ea1fa"/>
<rect x="629.60" y="364.95" width="2.20" height="2.00" fill="#9bbcff"/>
<rect x="629.60" y="365.75" width="2.20" height="2.40" fill="#b7cff9"/>
<rect x="629.60" y="366.95" width="2.20" height="2.30" fill="#d2dbe8"/>
<rect x="629.60" y="368.05" width="2.20" height="2.60" fill="#e5d7cf"/>
<rect x="629.60" y="369.45" width="2.20" height="2.50" fill="#edc4ae"/>
<rect x="629.60" y="370.75" width="2.20" height="2.10" fill="#eca88d"/>
<rect x="629.60" y="371.65" width="2.20" height="5.00" fill="#e4876d"/>
<rect x="629.60" y="375.45" width="2.20" height="5.70" fill="#d6624f"/>
<rect x="630.20" y="304.05" width="2.20" height="24.20" fill="#b20a2a"/>
<rect x="630.20" y="327.05" width="2.20" height="2.80" fill="#c33034"/>
<rect x="630.20" y="328.65" width="2.20" height="2.20" fill="#d6624f"/>
<rect x="630.20" y="329.65" width="2.20" height="2.20" fill="#e4876d"/>
<rect x="630.20" y="330.65" width="2.20" height="2.30" fill="#eca88d"/>
<rect x="630.20" y="331.75" width="2.20" height="2.60" fill="#edc4ae"/>
<rect x="630.20" y="333.15" width="2.20" height="2.60" fill="#e5d7cf"/>
<rect x="630.20" y="334.55" width="2.20" height="3.00" fill="#d2dbe8"/>
<rect x="630.20" y="336.35" width="2.20" height="3.10" fill="#b7cff9"/>
<rect x="630.20" y="338.25" width="2.20" height="2.50" fill="#9bbcff"/>
<rect x="630.20" y="339.55" width="2.20" height="1.90" fill="#7ea1fa"/>
<rect x="630.20" y="340.25" width="2.20" height="1.80" fill="#6180e9"/>
<rect x="630.20" y="340.85" width="2.20" height="1.90" fill="#465ecf"/>
<rect x="630.20" y="341.55" width="2.20" height="23.50" fill="#3b4cc0"/>
<rect x="630.20" y="363.85" width="2.20" height="1.70" fill="#465ecf"/>
<rect x="630.20" y="364.35" width="2.20" height="1.50" fill="#6180e9"/>
<rect x="630.20" y="364.65" width="2.20" height="1.60" fill="#7ea1fa"/>
<rect x="630.20" y="365.05" width="2.20" height="1.90" fill="#9bbcff"/>
<rect x="630.20" y="365.75" width="2.20" height="2.40" fill="#b7cff9"/>
<rect x="630.20" y="366.95" width="2.20" height="2.30" fill="#d2dbe8"/>
<rect x="630.20" y="368.05" width="2.20" height="2.50" fill="#e5d7cf"/>
<rect x="630.20" y="369.35" width="2.20" height="2.50" fill="#edc4ae"/>
<rect x="630.20" y="370.65" width="2.20" height="2.20" fill="#eca88d"/>
<rect x="630.20" y="371.65" width="2.20" height="4.10" fill="#e4876d"/>
<rect x="630.20" y="374.55" width="2.20" height="6.60" fill="#d6624f"/>
<rect x="630.80" y="304.05" width="2.20" height="24.50" fill="#b20a2a"/>
<rect x="630.80" y="327.35" width="2.20" height="2.60" fill="#c33034"/>
<rect x="630.80" y="328.75" width="2.20" height="2.20" fill="#d6624f"/>
<rect x="630.80" y="329.75" width="2.20" height="2.20" fill="#e4876d"/>
<rect x="630.80" y="330.75" width="2.20" height="2.30" fill="#eca88d"/>
<rect x="630.80" y="331.85" width="2.20" height="2.50" fill="#edc4ae"/>
<rect x="630.80" y="333.15" width="2.20" height="2.60" fill="#e5d7cf"/>
<rect x="630.80" y="334.55" width="2.20" height="3.00" fill="#d2dbe8"/>
<rect x="630.80" y="336.35" width="2.20" height="3.00" fill="#b7cff9"/>
<rect x="630.80" y="338.15" width="2.20" height="2.50" fill="#9bbcff"/>
<rect x="630.80" y="339.45" width="2.20" height="1.90" fill="#7ea1fa"/>
<rect x="630.80" y="340.15" width="2.20" height="1.80" fill="#6180e9"/>
<rect x="630.80" y="340.75" width="2.20" height="1.90" fill="#465ecf"/>
<rect x="630.80" y="341.45" width="2.20" height="23.70" fill="#3b4cc0"/>
<rect x="630.80" y="363.95" width="2.20" height="1.60" fill="#465ecf"/>
<rect x="630.80" y="364.35" width="2.20" height="1.60" fill="#6180e9"/>
<rect x="630.80" y="364.75" width="2.20" height="1.50" fill="#7ea1fa"/>
<rect x="630.80" y="365.05" width="2.20" height="2.00" fill="#9bbcff"/>
<rect x="630.80" y="365.85" width="2.20" height="2.30" fill="#b7cff9"/>
<rect x="630.80" y="366.95" width="2.20" height="2.30" fill="#d2dbe8"/>
<rect x="630.80" y="368.05" width="2.20" height="2.50" fill="#e5d7cf"/>
<rect x="630.80" y="369.35" width="2.20" height="2.40" fill="#edc4ae"/>
<rect x="630.80" y="370.55" width="2.20" height="2.20" fill="#eca88d"/>
<rect x="630.80" y="371.55" width="2.20" height="3.50" fill="#e4876d"/>
<rect x="630.80" y="373.85" width="2.20" height="7.30" fill="#d6624f"/>
<rect x="631.40" y="304.05" width="2.20" height="24.70" fill="#b20a2a"/>
<rect x="631.40" y="327.55" width="2.20" height="2.60" fill="#c33034"/>
<rect x="631.40" y="328.95" width="2.20" height="2.10" fill="#d6624f"/>
<rect x="631.40" y="329.85" width="2.20" height="2.10" fill="#e4876d"/>
<rect x="631.40" y="330.75" width="2.20" height="2.40" fill="#eca88d"/>
<rect x="631.40" y="331.95" width="2.20" height="2.50" fill="#edc4ae"/>
<rect x="631.40" y="333.25" width="2.20" height="2.50" fill="#e5d7cf"/>
<rect x="631.40" y="334.55" width="2.20" height="2.90" fill="#d2dbe8"/>
<rect x="631.40" y="336.25" width="2.20" height="3.00" fill="#b7cff9"/>
<rect x="631.40" y="338.05" width="2.20" height="2.60" fill="#9bbcff"/>
<rect x="631.40" y="339.45" width="2.20" height="1.80" fill="#7ea1fa"/>
<rect x="631.40" y="340.05" width="2.20" height="1.80" fill="#6180e9"/>
<rect x="631.40" y="340.65" width="2.20" height="1.90" fill="#465ecf"/>
<rect x="631.40" y="341.35" width="2.20" height="23.80" fill="#3b4cc0"/>
<rect x="631.40" y="363.95" width="2.20" height="1.70" fill="#465ecf"/>
<rect x="631.40" y="364.45" width="2.20" height="1.50" fill="#6180e9"/>
<rect x="631.40" y="364.75" width="2.20" height="1.50" fill="#7ea1fa"/>
<rect x="631.40" y="365.05" width="2.20" height="2.10" fill="#9bbcff"/>
<rect x="631.40" y="365.95" width="2.20" height="2.30" fill="#b7cff9"/>
<rect x="631.40" y="367.05" width="2.20" height="2.20" fill="#d2dbe8"/>
<rect x="631.40" y="368.05" width="2.20" height="2.50" fill="#e5d7cf"/>
<rect x="631.40" y="369.35" width="2.20" height="2.40" fill="#edc4ae"/>
<rect x="631.40" y="370.55" width="2.20" height="2.20" fill="#eca88d"/>
<rect x="631.40" y="371.55" width="2.20" height="3.20" fill="#e4876d"/>
<rect x="631.40" y="373.55" width="2.20" height="7.60" fill="#d6624f"/>
<rect x="632.00" y="304.05" width="2.20" height="24.90" fill="#b20a2a"/>
<rect x="632.00" y="327.75" width="2.20" height="2.50" fill="#c33034"/>
<rect x="632.00" y="329.05" width="2.20" height="2.10" fill="#d6624f"/>
<rect x="632.00" y="329.95" width="2.20" height="2.10" fill="#e4876d"/>
<rect x="632.00" y="330.85" width="2.20" height="2.40" fill="#eca88d"/>
<rect x="632.00" y="332.05" width="2.20" height="2.40" fill="#edc4ae"/>
<rect x="632.00" y="333.25" width="2.20" height="2.50" fill="#e5d7cf"/>
<rect x="632.00" y="334.55" width="2.20" height="2.90" fill="#d2dbe8"/>
<rect x="632.00" y="336.25" width="2.20" height="2.90" fill="#b7cff9"/>
<rect x="632.00" y="337.95" width="2.20" height="2.60" fill="#9bbcff"/>
<rect x="632.00" y="339.35" width="2.20" height="1.80" fill="#7ea1fa"/>
<rect x="632.00" y="339.95" width="2.20" height="1.90" fill="#6180e9"/>
<rect x="632.00" y="340.65" width="2.20" height="1.80" fill="#465ecf"/>
<rect x="632.00" y="341.25" width="2.20" height="24.00" fill="#3b4cc0"/>
<rect x="632.00" y="364.05" width="2.20" height="1.60" fill="#465ecf"/>
<rect x="632.00" y="364.45" width="2.20" height="1.50" fill="#6180e9"/>
<rect x="632.00" y="364.75" width="2.20" height="1.60" fill="#7ea1fa"/>
<rect x="632.00" y="365.15" width="2.20" height="2.00" fill="#9bbcff"/>
<rect x="632.00" y="365.95" width="2.20" height="2.30" fill="#b7cff9"/>
<rect x="632.00" y="367.05" width="2.20" height="2.20" fill="#d2dbe8"/>
<rect x="632.00" y="368.05" width="2.20" height="2.40" fill="#e5d7cf"/>
<rect x="632.00" y="369.25" width="2.20" height="2.40" fill="#edc4ae"/>
<rect x="632.00" y="370.45" width="2.20" height="2.20" fill="#eca88d"/>
<rect x="632.00" y="371.45" width="2.20" height="3.00" fill="#e4876d"/>
<rect x="632.00" y="373.25" width="2.20" height="7.90" fill="#d6624f"/>
<rect x="632.60" y="304.05" width="2.20" height="25.10" fill="#b20a2a"/>
<rect x="632.60" y="327.95" width="2.20" height="2.30" fill="#c33034"/>
<rect x="632.60" y="329.05" width="2.20" height="2.10" fill="#d6624f"/>
<rect x="632.60" y="329.95" width="2.20" height="2.10" fill="#e4876d"/>
<rect x="632.60" y="330.85" width="2.20" height="2.40" fill="#eca88d"/>
<rect x="632.60" y="332.05" width="2.20" height="2.40" fill="#edc4ae"/>
<rect x="632.60" y="333.25" width="2.20" height="2.50" fill="#e5d7cf"/>
<rect x="632.60" y="334.55" width="2.20" height="2.80" fill="#d2dbe8"/>
<rect x="632.60" y="336.15" width="2.20" height="2.90" fill="#b7cff9"/>
<rect x="632.60" y="337.85" width="2.20" height="2.70" fill="#9bbcff"/>
<rect x="632.60" y="339.35" width="2.20" height="1.80" fill="#7ea1fa"/>
<rect x="632.60" y="339.95" width="2.20" height="1.80" fill="#6180e9"/>
<rect x="632.60" y="340.55" width="2.20" height="1.80" fill="#465ecf"/>
<rect x="632.60" y="341.15" width="2.20" height="24.20" fill="#3b4cc0"/>
<rect x="632.60" y="364.15" width="2.20" height="1.50" fill="#465ecf"/>
<rect x="632.60" y="364.45" width="2.20" height="1.60" fill="#6180e9"/>
<rect x="632.60" y="364.85" width="2.20" height="1.50" fill="#7ea1fa"/>
<rect x="632.60" y="365.15" width="2.20" height="2.10" fill="#9bbcff"/>
<rect x="632.60" y="366.05" width="2.20" height="2.20" fill="#b7cff9"/>
<rect x="632.60" y="367.05" width="2.20" height="2.20" fill="#d2dbe8"/>
<rect x="632.60" y="368.05" width="2.20" height="2.40" fill="#e5d7cf"/>
<rect x="632.60" y="369.25" width="2.20" height="2.40" fill="#edc4ae"/>
<rect x="632.60" y="370.45" width="2.20" height="2.20" fill="#eca88d"/>
<rect x="632.60" y="371.45" width="2.20" height="2.80" fill="#e4876d"/>
<rect x="632.60" y="373.05" width="2.20" height="8.10" fill="#d6624f"/>
<rect x="633.20" y="304.05" width="2.20" height="25.30" fill="#b20a2a"/>
<rect x="633.20" y="328.15" width="2.20" height="2.20" fill="#c33034"/>
<rect x="633.20" y="329.15" width="2.20" height="2.10" fill="#d6624f"/>
<rect x="633.20" y="330.05" width="2.20" height="2.10" fill="#e4876d"/>
<rect x="633.20" y="330.95" width="2.20" height="2.30" fill="#eca88d"/>
<rect x="633.20" y="332.05" width="2.20" height="2.40" fill="#edc4ae"/>
<rect x="633.20" y="333.25" width="2.20" height="2.50" fill="#e5d7cf"/>
<rect x="633.20" y="334.55" width="2.20" height="2.80" fill="#d2dbe8"/>
<rect x="633.20" y="336.15" width="2.20" height="2.90" fill="#b7cff9"/>
<rect x="633.20" y="337.85" width="2.20" height="2.70" fill="#9bbcff"/>
<rect x="633.20" y="339.35" width="2.20" height="1.80" fill="#7ea1fa"/>
<rect x="633.20" y="339.95" width="2.20" height="1.80" fill="#6180e9"/>
<rect x="633.20" y="340.55" width="2.20" height="1.80" fill="#465ecf"/>
<rect x="633.20" y="341.15" width="2.20" height="24.20" fill="#3b4cc0"/>
<rect x="633.20" y="364.15" width="2.20" height="1.60" fill="#465ecf"/>
<rect x="633.20" y="364.55" width="2.20" height="1.50" fill="#6180e9"/>
<rect x="633.20" y="364.85" width="2.20" height="1.50" fill="#7ea1fa"/>
<rect x="633.20" y="365.15" width="2.20" height="2.10" fill="#9bbcff"/>
<rect x="633.20" y="366.05" width="2.20" height="2.20" fill="#b7cff9"/>
<rect x="633.20" y="367.05" width="2.20" height="2.20" fill="#d2dbe8"/>
<rect x="633.20" y="368.05" width="2.20" height="2.40" fill="#e5d7cf"/>
<rect x="633.20" y="369.25" width="2.20" height="2.30" fill="#edc4ae"/>
<rect x="633.20" y="370.35" width="2.20" height="2.30" fill="#eca88d"/>
<rect x="633.20" y="371.45" width="2.20" height="2.60" fill="#e4876d"/>
<rect x="633.20" y="372.85" width="2.20" height="8.30" fill="#d6624f"/>
<rect x="633.80" y="304.05" width="2.20" height="25.40" fill="#b20a2a"/>
<rect x="633.80" y="328.25" width="2.20" height="2.20" fill="#c33034"/>
<rect x="633.80" y="329.25" width="2.20" height="2.10" fill="#d6624f"/>
<rect x="633.80" y="330.15" width="2.20" height="2.00" fill="#e4876d"/>
<rect x="633.80" y="330.95" width="2.20" height="2.40" fill="#eca88d"/>
<rect x="633.80" y="332.15" width="2.20" height="2.40" fill="#edc4ae"/>
<rect x="633.80" y="333.35" width="2.20" height="2.40" fill="#e5d7cf"/>
<rect x="633.80" y="334.55" width="2.20" height="2.80" fill="#d2dbe8"/>
<rect x="633.80" y="336.15" width="2.20" height="2.80" fill="#b7cff9"/>
<rect x="633.80" y="337.75" width="2.20" height="2.70" fill="#9bbcff"/>
<rect x="633.80" y="339.25" width="2.20" height="1.80" fill="#7ea1fa"/>
<rect x="633.80" y="339.85" width="2.20" height="1.80" fill="#6180e9"/>
<rect x="633.80" y="340.45" width="2.20" height="1.80" fill="#465ecf"/>
<rect x="633.80" y="341.05" width="2.20" height="24.40" fill="#3b4cc0"/>
<rect x="633.80" y="364.25" width="2.20" height="1.50" fill="#465ecf"/>
<rect x="633.80" y="364.55" width="2.20" height="1.50" fill="#6180e9"/>
<rect x="633.80" y="364.85" width="2.20" height="1.50" fill="#7ea1fa"/>
<rect x="633.80" y="365.15" width="2.20" height="2.10" fill="#9bbcff"/>
<rect x="633.80" y="366.05" width="2.20" height="2.20" fill="#b7cff9"/>
<rect x="633.80" y="367.05" width="2.20" height="2.20" fill="#d2dbe8"/>
<rect x="633.80" y="368.05" width="2.20" height="2.40" fill="#e5d7cf"/>
<rect x="633.80" y="369.25" width="2.20" height="2.30" fill="#edc4ae"/>
<rect x="633.80" y="370.35" width="2.20" height="2.20" fill="#eca88d"/>
<rect x="633.80" y="371.35" width="2.20" height="2.50" fill="#e4876d"/>
<rect x="633.80" y="372.65" width="2.20" height="7.60" fill="#d6624f"/>
<rect x="633.80" y="379.05" width="2.20" height="2.10" fill="#c33034"/>
<rect x="634.40" y="304.05" width="2.20" height="25.60" fill="#b20a2a"/>
<rect x="634.40" y="328.45" width="2.20" height="2.10" fill="#c33034"/>
<rect x="634.40" y="329.35" width="2.20" height="2.00" fill="#d6624f"/>
<rect x="634.40" y="330.15" width="2.20" height="2.10" fill="#e4876d"/>
<rect x="634.40" y="331.05" width="2.20" height="2.30" fill="#eca88d"/>
<rect x="634.40" y="332.15" width="2.20" height="2.40" fill="#edc4ae"/>
<rect x="634.40" y="333.35" width="2.20" height="2.40" fill="#e5d7cf"/>
<rect x="634.40" y="334.55" width="2.20" height="2.80" fill="#d2dbe8"/>
<rect x="634.40" y="336.15" width="2.20" height="2.80" fill="#b7cff9"/>
<rect x="634.40" y="337.75" width="2.20" height="2.70" fill="#9bbcff"/>
<rect x="634.40" y="339.25" width="2.20" height="1.80" fill="#7ea1fa"/>
<rect x="634.40" y="339.85" width="2.20" height="1.70" fill="#6180e9"/>
<rect x="634.40" y="340.35" width="2.20" height="1.80" fill="#465ecf"/>
<rect x="634.40" y="340.95" width="2.20" height="24.50" fill="#3b4cc0"/>
<rect x="634.40" y="364.25" width="2.20" height="1.50" fill="#465ecf"/>
<rect x="634.40" y="364.55" width="2.20" height="1.50" fill="#6180e9"/>
<rect x="634.40" y="364.85" width="2.20" height="1.50" fill="#7ea1fa"/>
<rect x="634.40" y="365.15" width="2.20" height="2.20" fill="#9bbcff"/>
<rect x="634.40" y="366.15" width="2.20" height="2.20" fill="#b7cff9"/>
<rect x="634.40" y="367.15" width="2.20" height="2.10" fill="#d2dbe8"/>
<rect x="634.40" y="368.05" width="2.20" height="2.30" fill="#e5d7cf"/>
<rect x="634.40" y="369.15" width="2.20" height="2.30" fill="#edc4ae"/>
<rect x="634.40" y="370.25" width="2.20" height="2.30" fill="#eca88d"/>
<rect x="634.40" y="371.35" width="2.20" height="2.30" fill="#e4876d"/>
<rect x="634.40" y="372.45" width="2.20" height="5.60" fill="#d6624f"/>
<rect x="634.40" y="376.85" width="2.20" height="4.30" fill="#c33034"/>
<rect x="635.00" y="304.05" width="2.20" height="25.70" fill="#b20a2a"/>
<rect x="635.00" y="328.55" width="2.20" height="2.10" fill="#c33034"/>
<rect x="635.00" y="329.45" width="2.20" height="2.00" fill="#d6624f"/>
<rect x="635.00" y="330.25" width="2.20" height="2.00" fill="#e4876d"/>
<rect x="635.00" y="331.05" width="2.20" height="2.40" fill="#eca88d"/>
<rect x="635.00" y="332.25" width="2.20" height="2.30" fill="#edc4ae"/>
<rect x="635.00" y="333.35" width="2.20" height="2.40" fill="#e5d7cf"/>
<rect x="635.00" y="334.55" width="2.20" height="2.70" fill="#d2dbe8"/>
<rect x="635.00" y="336.05" width="2.20" height="2.80" fill="#b7cff9"/>
<rect x="635.00" y="337.65" width="2.20" height="2.80" fill="#9bbcff"/>
<rect x="635.00" y="339.25" width="2.20" height="1.70" fill="#7ea1fa"/>
<rect x="635.00" y="339.75" width="2.20" height="1.80" fill="#6180e9"/>
<rect x="635.00" y="340.35" width="2.20" height="1.80" fill="#465ecf"/>
<rect x="635.00" y="340.95" width="2.20" height="24.50" fill="#3b4cc0"/>
<rect x="635.00" y="364.25" width="2.20" height="1.50" fill="#465ecf"/>
<rect x="635.00" y="364.55" width="2.20" height="1.50" fill="#6180e9"/>
<rect x="635.00" y="364.85" width="2.20" height="1.50" fill="#7ea1fa"/>
<rect x="635.00" y="365.15" width="2.20" height="2.20" fill="#9bbcff"/>
<rect x="635.00" y="366.15" width="2.20" height="2.20" fill="#b7cff9"/>
<rect x="635.00" y="367.15" width="2.20" height="2.10" fill="#d2dbe8"/>
<rect x="635.00" y="368.05" width="2.20" height="2.30" fill="#e5d7cf"/>
<rect x="635.00" y="369.15" width="2.20" height="2.30" fill="#edc4ae"/>
<rect x="635.00" y="370.25" width="2.20" height="2.30" fill="#eca88d"/>
<rect x="635.00" y="371.35" width="2.20" height="2.10" fill="#e4876d"/>
<rect x="635.00" y="372.25" width="2.20" height="5.00" fill="#d6624f"/>
<rect x="635.00" y="376.05" width="2.20" height="5.10" fill="#c33034"/>
<rect x="635.60" y="304.05" width="2.20" height="25.80" fill="#b20a2a"/>
<rect x="635.60" y="328.65" width="2.20" height="2.00" fill="#c33034"/>
<rect x="635.60" y="329.45" width="2.20" height="2.10" fill="#d6624f"/>
<rect x="635.60" y="330.35" width="2.20" height="2.00" fill="#e4876d"/>
<rect x="635.60" y="331.15" width="2.20" height="2.30" fill="#eca88d"/>
<rect x="635.60" y="332.25" width="2.20" height="2.30" fill="#edc4ae"/>
<rect x="635.60" y="333.35" width="2.20" height="2.40" fill="#e5d7cf"/>
<rect x="635.60" y="334.55" width="2.20" height="2.70" fill="#d2dbe8"/>
<rect x="635.60" y="336.05" width="2.20" height="2.70" fill="#b7cff9"/>
<rect x="635.60" y="337.55" width="2.20" height="2.80" fill="#9bbcff"/>
<rect x="635.60" y="339.15" width="2.20" height="1.80" fill="#7ea1fa"/>
<rect x="635.60" y="339.75" width="2.20" height="1.70" fill="#6180e9"/>
<rect x="635.60" y="340.25" width="2.20" height="1.80" fill="#465ecf"/>
<rect x="635.60" y="340.85" width="2.20" height="24.70" fill="#3b4cc0"/>
<rect x="635.60" y="364.35" width="2.20" height="1.50" fill="#465ecf"/>
<rect x="635.60" y="364.65" width="2.20" height="1.50" fill="#6180e9"/>
<rect x="635.60" y="364.95" width="2.20" height="1.50" fill="#7ea1fa"/>
<rect x="635.60" y="365.25" width="2.20" height="2.10" fill="#9bbcff"/>
<rect x="635.60" y="366.15" width="2.20" height="2.20" fill="#b7cff9"/>
<rect x="635.60" y="367.15" width="2.20" height="2.10" fill="#d2dbe8"/>
<rect x="635.60" y="368.05" width="2.20" height="2.30" fill="#e5d7cf"/>
<rect x="635.60" y="369.15" width="2.20" height="2.30" fill="#edc4ae"/>
<rect x="635.60" y="370.25" width="2.20" height="2.20" fill="#eca88d"/>
<rect x="635.60" y="371.25" width="2.20" height="2.00" fill="#e4876d"/>
<rect x="635.60" y="372.05" width="2.20" height="4.70" fill="#d6624f"/>
<rect x="635.60" y="375.55" width="2.20" height="5.60" fill="#c33034"/>
<rect x="636.20" y="304.05" width="2.20" height="25.90" fill="#b20a2a"/>
<rect x="636.20" y="328.75" width="2.20" height="2.00" fill="#c33034"/>
<rect x="636.20" y="329.55" width="2.20" height="2.00" fill="#d6624f"/>
<rect x="636.20" y="330.35" width="2.20" height="2.00" fill="#e4876d"/>
<rect x="636.20" y="331.15" width="2.20" height="2.30" fill="#eca88d"/>
<rect x="636.20" y="332.25" width="2.20" height="2.30" fill="#edc4ae"/>
<rect x="636.20" y="333.35" width="2.20" height="2.40" fill="#e5d7cf"/>
<rect x="636.20" y="334.55" width="2.20" height="2.70" fill="#d2dbe8"/>
<rect x="636.20" y="336.05" width="2.20" height="2.70" fill="#b7cff9"/>
<rect x="636.20" y="337.55" width="2.20" height="2.70" fill="#9bbcff"/>
<rect x="636.20" y="339.05" width="2.20" height="1.90" fill="#7ea1fa"/>
<rect x="636.20" y="339.75" width="2.20" height="1.70" fill="#6180e9"/>
<rect x="636.20" y="340.25" width="2.20" height="1.80" fill="#465ecf"/>
<rect x="636.20" y="340.85" width="2.20" height="24.70" fill="#3b4cc0"/>
<rect x="636.20" y="364.35" width="2.20" height="1.50" fill="#465ecf"/>
<rect x="636.20" y="364.65" width="2.20" height="1.50" fill="#6180e9"/>
<rect x="636.20" y="364.95" width="2.20" height="1.50" fill="#7ea1fa"/>
<rect x="636.20" y="365.25" width="2.20" height="2.20" fill="#9bbcff"/>
<rect x="636.20" y="366.25" width="2.20" height="2.10" fill="#b7cff9"/>
<rect x="636.20" y="367.15" width="2.20" height="2.10" fill="#d2dbe8"/>
<rect x="636.20" y="368.05" width="2.20" height="2.30" fill="#e5d7cf"/>
<rect x="636.20" y="369.15" width="2.20" height="2.20" fill="#edc4ae"/>
<rect x="636.20" y="370.15" width="2.20" height="2.30" fill="#eca88d"/>
<rect x="636.20" y="371.25" width="2.20" height="1.80" fill="#e4876d"/>
<rect x="636.20" y="371.85" width="2.20" height="4.40" fill="#d6624f"/>
<rect x="636.20" y="375.05" width="2.20" height="6.10" fill="#c33034"/>
<rect x="636.80" y="304.05" width="2.20" height="26.00" fill="#b20a2a"/>
<rect x="636.80" y="328.85" width="2.20" height="2.00" fill="#c33034"/>
<rect x="636.80" y="329.65" width="2.20" height="2.00" fill="#d6624f"/>
<rect x="636.80" y="330.45" width="2.20" height="2.00" fill="#e4876d"/>
<rect x="636.80" y="331.25" width="2.20" height="2.30" fill="#eca88d"/>
<rect x="636.80" y="332.35" width="2.20" height="2.30" fill="#edc4ae"/>
<rect x="636.80" y="333.45" width="2.20" height="2.30" fill="#e5d7cf"/>
<rect x="636.80" y="334.55" width="2.20" height="2.60" fill="#d2dbe8"/>
<rect x="636.80" y="335.95" width="2.20" height="2.70" fill="#b7cff9"/>
<rect x="636.80" y="337.45" width="2.20" height="2.70" fill="#9bbcff"/>
<rect x="636.80" y="338.95" width="2.20" height="1.90" fill="#7ea1fa"/>
<rect x="636.80" y="339.65" width="2.20" height="1.80" fill="#6180e9"/>
<rect x="636.80" y="340.25" width="2.20" height="1.70" fill="#465ecf"/>
<rect x="636.80" y="340.75" width="2.20" height="24.80" fill="#3b4cc0"/>
<rect x="636.80" y="364.35" width="2.20" height="1.50" fill="#465ecf"/>
<rect x="636.80" y="364.65" width="2.20" height="1.50" fill="#6180e9"/>
<rect x="636.80" y="364.95" width="2.20" height="1.60" fill="#7ea1fa"/>
<rect x="636.80" y="365.35" width="2.20" height="2.10" fill="#9bbcff"/>
<rect x="636.80" y="366.25" width="2.20" height="2.10" fill="#b7cff9"/>
<rect x="636.80" y="367.15" width="2.20" height="2.10" fill="#d2dbe8"/>
<rect x="636.80" y="368.05" width="2.20" height="2.30" fill="#e5d7cf"/>
<rect x="636.80" y="369.15" width="2.20" height="2.20" fill="#edc4ae"/>
<rect x="636.80" y="370.15" width="2.20" height="2.20" fill="#eca88d"/>
<rect x="636.80" y="371.15" width="2.20" height="1.80" fill="#e4876d"/>
<rect x="636.80" y="371.75" width="2.20" height="4.00" fill="#d6624f"/>
<rect x="636.80" y="374.55" width="2.20" height="6.60" fill="#c33034"/>
<rect x="637.40" y="304.05" width="2.00" height="26.00" fill="#b20a2a"/>
<rect x="637.40" y="328.85" width="2.00" height="2.00" fill="#c33034"/>
<rect x="637.40" y="329.65" width="2.00" height="2.00" fill="#d6624f"/>
<rect x="637.40" y="330.45" width="2.00" height="2.00" fill="#e4876d"/>
<rect x="637.40" y="331.25" width="2.00" height="2.30" fill="#eca88d"/>
<rect x="637.40" y="332.35" width="2.00" height="2.30" fill="#edc4ae"/>
<rect x="637.40" y="333.45" width="2.00" height="2.30" fill="#e5d7cf"/>
<rect x="637.40" y="334.55" width="2.00" height="2.60" fill="#d2dbe8"/>
<rect x="637.40" y="335.95" width="2.00" height="2.70" fill="#b7cff9"/>
<rect x="637.40" y="337.45" width="2.00" height="2.70" fill="#9bbcff"/>
<rect x="637.40" y="338.95" width="2.00" height="1.90" fill="#7ea1fa"/>
<rect x="637.40" y="339.65" width="2.00" height="1.70" fill="#6180e9"/>
<rect x="637.40" y="340.15" width="2.00" height="1.80" fill="#465ecf"/>
<rect x="637.40" y="340.75" width="2.00" height="24.90" fill="#3b4cc0"/>
<rect x="637.40" y="364.45" width="2.00" height="1.40" fill="#465ecf"/>
<rect x="637.40" y="364.65" width="2.00" height="1.50" fill="#6180e9"/>
<rect x="637.40" y="364.95" width="2.00" height="1.60" fill="#7ea1fa"/>
<rect x="637.40" y="365.35" width="2.00" height="2.10" fill="#9bbcff"/>
<rect x="637.40" y="366.25" width="2.00" height="2.10" fill="#b7cff9"/>
<rect x="637.40" y="367.15" width="2.00" height="2.10" fill="#d2dbe8"/>
<rect x="637.40" y="368.05" width="2.00" height="2.30" fill="#e5d7cf"/>
<rect x="637.40" y="369.15" width="2.00" height="2.20" fill="#edc4ae"/>
<rect x="637.40" y="370.15" width="2.00" height="2.20" fill="#eca88d"/>
<rect x="637.40" y="371.15" width="2.00" height="1.80" fill="#e4876d"/>
<rect x="637.40" y="371.75" width="2.00" height="3.60" fill="#d6624f"/>
<rect x="637.40" y="374.15" width="2.00" height="7.00" fill="#c33034"/>
<path d="M59.5 366.2 L65.5 364.6 L71.5 364.2 L77.5 363.9 L83.5 363.5 L89.5 363.1 L95.5 362.7 L101.5 362.4 L107.5 361.9 L113.5 361.5 L119.5 361.2 L125.5 360.8 L131.5 360.5 L137.5 360.3 L143.5 360.1 L149.5 359.9 L155.5 359.8 L161.5 359.6 L167.5 359.4 L173.5 359.2 L179.5 359.0 L185.5 358.8 L191.5 358.5 L197.5 358.3 L203.5 358.0 L209.5 357.8 L215.5 357.5 L221.5 357.3 L227.5 357.0 L233.5 356.8 L239.5 356.5 L245.5 356.3 L251.5 356.0 L257.5 355.8 L263.5 355.5 L269.5 355.3 L275.5 355.0 L281.5 354.8 L287.5 354.5 L293.5 354.3 L299.5 354.1 L305.5 353.9 L311.5 353.7 L317.5 353.5 L323.5 353.3 L329.5 353.1 L335.5 353.0 L341.5 352.8 L347.5 352.6 L353.5 352.4 L359.5 352.3 L365.5 352.1 L371.5 351.9 L377.5 351.7 L383.5 351.5 L389.5 351.3 L395.5 351.1 L401.5 351.0 L407.5 350.8 L413.5 350.6 L419.5 350.5 L425.5 350.3 L431.5 350.1 L437.5 349.9 L443.5 349.7 L449.5 349.6 L455.5 349.4 L461.5 349.2 L467.5 349.0 L473.5 348.8 L479.5 348.6 L485.5 348.4 L491.5 348.2 L497.5 347.9 L503.5 347.7 L509.5 347.5 L515.5 347.2 L521.5 347.0 L527.5 346.7 L533.5 346.4 L539.5 346.0 L545.5 345.5 L551.5 345.0 L557.5 344.4 L563.5 343.9 L569.5 343.3 L575.5 342.8 L581.5 342.2 L587.5 341.7 L590.0 341.5 L591.0 341.4 L592.0 341.3 L593.0 341.2 L594.0 341.1 L595.0 341.0 L596.0 340.9 L597.0 340.8 L598.0 340.7 L599.0 340.5 L600.0 340.4 L601.0 340.2 L602.0 340.1 L603.0 339.9 L604.0 339.8 L605.0 339.6 L606.0 339.4 L607.0 339.1 L608.0 338.9 L609.0 338.6 L610.0 338.3 L611.0 338.0 L612.0 337.7 L613.0 337.2 L614.0 336.7 L615.0 336.2 L616.0 335.5 L617.0 334.7 L618.0 333.9 L619.0 333.1 L620.0 332.2 L621.0 331.5 L622.0 330.7 L623.0 330.1 L624.0 329.4 L625.0 328.9 L626.0 328.3 L627.0 327.7 L628.0 327.0 L629.0 326.2 L630.0 325.2 L631.0 323.8 L632.0 321.0 L633.0 316.7 L634.0 315.9 L635.0 315.2 L636.0 314.1 L637.0 312.8 L637.8 311.7" fill="none" stroke="#0a0a0a" stroke-width="1.15" stroke-linejoin="round"/>
</g>
</g>
<rect x="59.5" y="6.45" width="578.3" height="75.9" fill="none" stroke="#222" stroke-width="0.9"/>
<path d="M57.0 6.45H59.5" stroke="#222" stroke-width="0.8"/>
<text x="54.4" y="10.85" text-anchor="end" font-size="10.5" font-family="DejaVu Sans, Liberation Sans, sans-serif" fill="#000">80W</text>
<path d="M57.0 25.43H59.5" stroke="#222" stroke-width="0.8"/>
<text x="54.4" y="29.83" text-anchor="end" font-size="10.5" font-family="DejaVu Sans, Liberation Sans, sans-serif" fill="#000">120W</text>
<path d="M57.0 44.40H59.5" stroke="#222" stroke-width="0.8"/>
<text x="54.4" y="48.80" text-anchor="end" font-size="10.5" font-family="DejaVu Sans, Liberation Sans, sans-serif" fill="#000">160W</text>
<path d="M57.0 63.38H59.5" stroke="#222" stroke-width="0.8"/>
<text x="54.4" y="67.78" text-anchor="end" font-size="10.5" font-family="DejaVu Sans, Liberation Sans, sans-serif" fill="#000">160E</text>
<path d="M57.0 82.35H59.5" stroke="#222" stroke-width="0.8"/>
<text x="54.4" y="86.75" text-anchor="end" font-size="10.5" font-family="DejaVu Sans, Liberation Sans, sans-serif" fill="#000">120E</text>
<path d="M59.5 82.35V84.85" stroke="#222" stroke-width="0.8"/>
<text x="59.5" y="93.45" text-anchor="middle" font-size="7" font-family="DejaVu Sans, Liberation Sans, sans-serif" fill="#000">0</text>
<path d="M175.5 82.35V84.85" stroke="#222" stroke-width="0.8"/>
<text x="175.5" y="93.45" text-anchor="middle" font-size="7" font-family="DejaVu Sans, Liberation Sans, sans-serif" fill="#000">20</text>
<path d="M291.5 82.35V84.85" stroke="#222" stroke-width="0.8"/>
<text x="291.5" y="93.45" text-anchor="middle" font-size="7" font-family="DejaVu Sans, Liberation Sans, sans-serif" fill="#000">40</text>
<path d="M407.5 82.35V84.85" stroke="#222" stroke-width="0.8"/>
<text x="407.5" y="93.45" text-anchor="middle" font-size="7" font-family="DejaVu Sans, Liberation Sans, sans-serif" fill="#000">60</text>
<path d="M523.5 82.35V84.85" stroke="#222" stroke-width="0.8"/>
<text x="523.5" y="93.45" text-anchor="middle" font-size="7" font-family="DejaVu Sans, Liberation Sans, sans-serif" fill="#000">80</text>
<rect x="59.5" y="105.50" width="578.3" height="75.9" fill="none" stroke="#222" stroke-width="0.9"/>
<path d="M57.0 105.50H59.5" stroke="#222" stroke-width="0.8"/>
<text x="54.4" y="109.90" text-anchor="end" font-size="10.5" font-family="DejaVu Sans, Liberation Sans, sans-serif" fill="#000">80W</text>
<path d="M57.0 124.47H59.5" stroke="#222" stroke-width="0.8"/>
<text x="54.4" y="128.88" text-anchor="end" font-size="10.5" font-family="DejaVu Sans, Liberation Sans, sans-serif" fill="#000">120W</text>
<path d="M57.0 143.45H59.5" stroke="#222" stroke-width="0.8"/>
<text x="54.4" y="147.85" text-anchor="end" font-size="10.5" font-family="DejaVu Sans, Liberation Sans, sans-serif" fill="#000">160W</text>
<path d="M57.0 162.43H59.5" stroke="#222" stroke-width="0.8"/>
<text x="54.4" y="166.83" text-anchor="end" font-size="10.5" font-family="DejaVu Sans, Liberation Sans, sans-serif" fill="#000">160E</text>
<path d="M57.0 181.40H59.5" stroke="#222" stroke-width="0.8"/>
<text x="54.4" y="185.80" text-anchor="end" font-size="10.5" font-family="DejaVu Sans, Liberation Sans, sans-serif" fill="#000">120E</text>
<path d="M59.5 181.40V183.90" stroke="#222" stroke-width="0.8"/>
<text x="59.5" y="192.50" text-anchor="middle" font-size="7" font-family="DejaVu Sans, Liberation Sans, sans-serif" fill="#000">0</text>
<path d="M175.5 181.40V183.90" stroke="#222" stroke-width="0.8"/>
<text x="175.5" y="192.50" text-anchor="middle" font-size="7" font-family="DejaVu Sans, Liberation Sans, sans-serif" fill="#000">20</text>
<path d="M291.5 181.40V183.90" stroke="#222" stroke-width="0.8"/>
<text x="291.5" y="192.50" text-anchor="middle" font-size="7" font-family="DejaVu Sans, Liberation Sans, sans-serif" fill="#000">40</text>
<path d="M407.5 181.40V183.90" stroke="#222" stroke-width="0.8"/>
<text x="407.5" y="192.50" text-anchor="middle" font-size="7" font-family="DejaVu Sans, Liberation Sans, sans-serif" fill="#000">60</text>
<path d="M523.5 181.40V183.90" stroke="#222" stroke-width="0.8"/>
<text x="523.5" y="192.50" text-anchor="middle" font-size="7" font-family="DejaVu Sans, Liberation Sans, sans-serif" fill="#000">80</text>
<rect x="59.5" y="204.60" width="578.3" height="75.9" fill="none" stroke="#222" stroke-width="0.9"/>
<path d="M57.0 204.60H59.5" stroke="#222" stroke-width="0.8"/>
<text x="54.4" y="209.00" text-anchor="end" font-size="10.5" font-family="DejaVu Sans, Liberation Sans, sans-serif" fill="#000">80W</text>
<path d="M57.0 223.57H59.5" stroke="#222" stroke-width="0.8"/>
<text x="54.4" y="227.97" text-anchor="end" font-size="10.5" font-family="DejaVu Sans, Liberation Sans, sans-serif" fill="#000">120W</text>
<path d="M57.0 242.55H59.5" stroke="#222" stroke-width="0.8"/>
<text x="54.4" y="246.95" text-anchor="end" font-size="10.5" font-family="DejaVu Sans, Liberation Sans, sans-serif" fill="#000">160W</text>
<path d="M57.0 261.52H59.5" stroke="#222" stroke-width="0.8"/>
<text x="54.4" y="265.92" text-anchor="end" font-size="10.5" font-family="DejaVu Sans, Liberation Sans, sans-serif" fill="#000">160E</text>
<path d="M57.0 280.50H59.5" stroke="#222" stroke-width="0.8"/>
<text x="54.4" y="284.90" text-anchor="end" font-size="10.5" font-family="DejaVu Sans, Liberation Sans, sans-serif" fill="#000">120E</text>
<path d="M59.5 280.50V283.00" stroke="#222" stroke-width="0.8"/>
<text x="59.5" y="291.60" text-anchor="middle" font-size="7" font-family="DejaVu Sans, Liberation Sans, sans-serif" fill="#000">0</text>
<path d="M175.5 280.50V283.00" stroke="#222" stroke-width="0.8"/>
<text x="175.5" y="291.60" text-anchor="middle" font-size="7" font-family="DejaVu Sans, Liberation Sans, sans-serif" fill="#000">20</text>
<path d="M291.5 280.50V283.00" stroke="#222" stroke-width="0.8"/>
<text x="291.5" y="291.60" text-anchor="middle" font-size="7" font-family="DejaVu Sans, Liberation Sans, sans-serif" fill="#000">40</text>
<path d="M407.5 280.50V283.00" stroke="#222" stroke-width="0.8"/>
<text x="407.5" y="291.60" text-anchor="middle" font-size="7" font-family="DejaVu Sans, Liberation Sans, sans-serif" fill="#000">60</text>
<path d="M523.5 280.50V283.00" stroke="#222" stroke-width="0.8"/>
<text x="523.5" y="291.60" text-anchor="middle" font-size="7" font-family="DejaVu Sans, Liberation Sans, sans-serif" fill="#000">80</text>
<rect x="59.5" y="304.05" width="578.3" height="75.9" fill="none" stroke="#222" stroke-width="0.9"/>
<path d="M57.0 304.05H59.5" stroke="#222" stroke-width="0.8"/>
<text x="54.4" y="308.45" text-anchor="end" font-size="10.5" font-family="DejaVu Sans, Liberation Sans, sans-serif" fill="#000">80W</text>
<path d="M57.0 323.03H59.5" stroke="#222" stroke-width="0.8"/>
<text x="54.4" y="327.43" text-anchor="end" font-size="10.5" font-family="DejaVu Sans, Liberation Sans, sans-serif" fill="#000">120W</text>
<path d="M57.0 342.00H59.5" stroke="#222" stroke-width="0.8"/>
<text x="54.4" y="346.40" text-anchor="end" font-size="10.5" font-family="DejaVu Sans, Liberation Sans, sans-serif" fill="#000">160W</text>
<path d="M57.0 360.98H59.5" stroke="#222" stroke-width="0.8"/>
<text x="54.4" y="365.38" text-anchor="end" font-size="10.5" font-family="DejaVu Sans, Liberation Sans, sans-serif" fill="#000">160E</text>
<path d="M57.0 379.95H59.5" stroke="#222" stroke-width="0.8"/>
<text x="54.4" y="384.35" text-anchor="end" font-size="10.5" font-family="DejaVu Sans, Liberation Sans, sans-serif" fill="#000">120E</text>
<path d="M59.5 379.95V382.45" stroke="#222" stroke-width="0.8"/>
<text x="59.5" y="391.05" text-anchor="middle" font-size="7" font-family="DejaVu Sans, Liberation Sans, sans-serif" fill="#000">0</text>
<path d="M175.5 379.95V382.45" stroke="#222" stroke-width="0.8"/>
<text x="175.5" y="391.05" text-anchor="middle" font-size="7" font-family="DejaVu Sans, Liberation Sans, sans-serif" fill="#000">20</text>
<path d="M291.5 379.95V382.45" stroke="#222" stroke-width="0.8"/>
<text x="291.5" y="391.05" text-anchor="middle" font-size="7" font-family="DejaVu Sans, Liberation Sans, sans-serif" fill="#000">40</text>
<path d="M407.5 379.95V382.45" stroke="#222" stroke-width="0.8"/>
<text x="407.5" y="391.05" text-anchor="middle" font-size="7" font-family="DejaVu Sans, Liberation Sans, sans-serif" fill="#000">60</text>
<path d="M523.5 379.95V382.45" stroke="#222" stroke-width="0.8"/>
<text x="523.5" y="391.05" text-anchor="middle" font-size="7" font-family="DejaVu Sans, Liberation Sans, sans-serif" fill="#000">80</text>
<rect x="643.8" y="77.61" width="8.2" height="4.94" fill="#0e4179"/>
<rect x="643.8" y="72.86" width="8.2" height="4.94" fill="#1f63a8"/>
<rect x="643.8" y="68.12" width="8.2" height="4.94" fill="#3480b9"/>
<rect x="643.8" y="63.38" width="8.2" height="4.94" fill="#529dc8"/>
<rect x="643.8" y="58.63" width="8.2" height="4.94" fill="#84bcd9"/>
<rect x="643.8" y="53.89" width="8.2" height="4.94" fill="#aed3e6"/>
<rect x="643.8" y="49.14" width="8.2" height="4.94" fill="#d4e6f1"/>
<rect x="643.8" y="44.40" width="8.2" height="4.94" fill="#ecf2f5"/>
<rect x="643.8" y="39.66" width="8.2" height="4.94" fill="#f5ece6"/>
<rect x="643.8" y="34.91" width="8.2" height="4.94" fill="#f5dbca"/>
<rect x="643.8" y="30.17" width="8.2" height="4.94" fill="#eeb9a0"/>
<rect x="643.8" y="25.43" width="8.2" height="4.94" fill="#e39378"/>
<rect x="643.8" y="20.68" width="8.2" height="4.94" fill="#d66b57"/>
<rect x="643.8" y="15.94" width="8.2" height="4.94" fill="#c43e40"/>
<rect x="643.8" y="11.19" width="8.2" height="4.94" fill="#ab1b2e"/>
<rect x="643.8" y="6.45" width="8.2" height="4.94" fill="#7f0d26"/>
<path d="M643.8 6.45L647.9 2.35L652.0 6.45Z" fill="#6a0522"/>
<path d="M643.8 82.35L647.9 86.45L652.0 82.35Z" fill="#053061"/>
<path d="M643.8 6.45L647.9 2.35L652.0 6.45L652.0 82.35L647.9 86.45L643.8 82.35Z" fill="none" stroke="#222" stroke-width="0.6"/>
<path d="M652.0 6.45H654.6" stroke="#222" stroke-width="0.8"/>
<text x="657.2" y="10.85" font-size="10.5" font-family="DejaVu Sans, Liberation Sans, sans-serif" fill="#000">4</text>
<path d="M652.0 25.43H654.6" stroke="#222" stroke-width="0.8"/>
<text x="657.2" y="29.83" font-size="10.5" font-family="DejaVu Sans, Liberation Sans, sans-serif" fill="#000">2</text>
<path d="M652.0 44.40H654.6" stroke="#222" stroke-width="0.8"/>
<text x="657.2" y="48.80" font-size="10.5" font-family="DejaVu Sans, Liberation Sans, sans-serif" fill="#000">0</text>
<path d="M652.0 63.38H654.6" stroke="#222" stroke-width="0.8"/>
<text x="657.2" y="67.78" font-size="10.5" font-family="DejaVu Sans, Liberation Sans, sans-serif" fill="#000">−2</text>
<path d="M652.0 82.35H654.6" stroke="#222" stroke-width="0.8"/>
<text x="657.2" y="86.75" font-size="10.5" font-family="DejaVu Sans, Liberation Sans, sans-serif" fill="#000">−4</text>
<text transform="translate(684,44.4) rotate(-90)" text-anchor="middle" font-size="10.5" font-family="DejaVu Sans, Liberation Sans, sans-serif" fill="#000">C</text>
<rect x="643.8" y="176.66" width="8.2" height="4.94" fill="#0e4179"/>
<rect x="643.8" y="171.91" width="8.2" height="4.94" fill="#1f63a8"/>
<rect x="643.8" y="167.17" width="8.2" height="4.94" fill="#3480b9"/>
<rect x="643.8" y="162.43" width="8.2" height="4.94" fill="#529dc8"/>
<rect x="643.8" y="157.68" width="8.2" height="4.94" fill="#84bcd9"/>
<rect x="643.8" y="152.94" width="8.2" height="4.94" fill="#aed3e6"/>
<rect x="643.8" y="148.19" width="8.2" height="4.94" fill="#d4e6f1"/>
<rect x="643.8" y="143.45" width="8.2" height="4.94" fill="#ecf2f5"/>
<rect x="643.8" y="138.71" width="8.2" height="4.94" fill="#f5ece6"/>
<rect x="643.8" y="133.96" width="8.2" height="4.94" fill="#f5dbca"/>
<rect x="643.8" y="129.22" width="8.2" height="4.94" fill="#eeb9a0"/>
<rect x="643.8" y="124.47" width="8.2" height="4.94" fill="#e39378"/>
<rect x="643.8" y="119.73" width="8.2" height="4.94" fill="#d66b57"/>
<rect x="643.8" y="114.99" width="8.2" height="4.94" fill="#c43e40"/>
<rect x="643.8" y="110.24" width="8.2" height="4.94" fill="#ab1b2e"/>
<rect x="643.8" y="105.50" width="8.2" height="4.94" fill="#7f0d26"/>
<path d="M643.8 105.50L647.9 101.40L652.0 105.50Z" fill="#6a0522"/>
<path d="M643.8 181.40L647.9 185.50L652.0 181.40Z" fill="#053061"/>
<path d="M643.8 105.50L647.9 101.40L652.0 105.50L652.0 181.40L647.9 185.50L643.8 181.40Z" fill="none" stroke="#222" stroke-width="0.6"/>
<path d="M652.0 105.50H654.6" stroke="#222" stroke-width="0.8"/>
<text x="657.2" y="109.90" font-size="10.5" font-family="DejaVu Sans, Liberation Sans, sans-serif" fill="#000">4</text>
<path d="M652.0 124.47H654.6" stroke="#222" stroke-width="0.8"/>
<text x="657.2" y="128.88" font-size="10.5" font-family="DejaVu Sans, Liberation Sans, sans-serif" fill="#000">2</text>
<path d="M652.0 143.45H654.6" stroke="#222" stroke-width="0.8"/>
<text x="657.2" y="147.85" font-size="10.5" font-family="DejaVu Sans, Liberation Sans, sans-serif" fill="#000">0</text>
<path d="M652.0 162.43H654.6" stroke="#222" stroke-width="0.8"/>
<text x="657.2" y="166.83" font-size="10.5" font-family="DejaVu Sans, Liberation Sans, sans-serif" fill="#000">−2</text>
<path d="M652.0 181.40H654.6" stroke="#222" stroke-width="0.8"/>
<text x="657.2" y="185.80" font-size="10.5" font-family="DejaVu Sans, Liberation Sans, sans-serif" fill="#000">−4</text>
<text transform="translate(684,143.4) rotate(-90)" text-anchor="middle" font-size="10.5" font-family="DejaVu Sans, Liberation Sans, sans-serif" fill="#000">C</text>
<rect x="643.8" y="275.76" width="8.2" height="4.94" fill="#0e4179"/>
<rect x="643.8" y="271.01" width="8.2" height="4.94" fill="#1f63a8"/>
<rect x="643.8" y="266.27" width="8.2" height="4.94" fill="#3480b9"/>
<rect x="643.8" y="261.52" width="8.2" height="4.94" fill="#529dc8"/>
<rect x="643.8" y="256.78" width="8.2" height="4.94" fill="#84bcd9"/>
<rect x="643.8" y="252.04" width="8.2" height="4.94" fill="#aed3e6"/>
<rect x="643.8" y="247.29" width="8.2" height="4.94" fill="#d4e6f1"/>
<rect x="643.8" y="242.55" width="8.2" height="4.94" fill="#ecf2f5"/>
<rect x="643.8" y="237.81" width="8.2" height="4.94" fill="#f5ece6"/>
<rect x="643.8" y="233.06" width="8.2" height="4.94" fill="#f5dbca"/>
<rect x="643.8" y="228.32" width="8.2" height="4.94" fill="#eeb9a0"/>
<rect x="643.8" y="223.57" width="8.2" height="4.94" fill="#e39378"/>
<rect x="643.8" y="218.83" width="8.2" height="4.94" fill="#d66b57"/>
<rect x="643.8" y="214.09" width="8.2" height="4.94" fill="#c43e40"/>
<rect x="643.8" y="209.34" width="8.2" height="4.94" fill="#ab1b2e"/>
<rect x="643.8" y="204.60" width="8.2" height="4.94" fill="#7f0d26"/>
<path d="M643.8 204.60L647.9 200.50L652.0 204.60Z" fill="#6a0522"/>
<path d="M643.8 280.50L647.9 284.60L652.0 280.50Z" fill="#053061"/>
<path d="M643.8 204.60L647.9 200.50L652.0 204.60L652.0 280.50L647.9 284.60L643.8 280.50Z" fill="none" stroke="#222" stroke-width="0.6"/>
<path d="M652.0 204.60H654.6" stroke="#222" stroke-width="0.8"/>
<text x="657.2" y="209.00" font-size="10.5" font-family="DejaVu Sans, Liberation Sans, sans-serif" fill="#000">4</text>
<path d="M652.0 223.57H654.6" stroke="#222" stroke-width="0.8"/>
<text x="657.2" y="227.97" font-size="10.5" font-family="DejaVu Sans, Liberation Sans, sans-serif" fill="#000">2</text>
<path d="M652.0 242.55H654.6" stroke="#222" stroke-width="0.8"/>
<text x="657.2" y="246.95" font-size="10.5" font-family="DejaVu Sans, Liberation Sans, sans-serif" fill="#000">0</text>
<path d="M652.0 261.52H654.6" stroke="#222" stroke-width="0.8"/>
<text x="657.2" y="265.92" font-size="10.5" font-family="DejaVu Sans, Liberation Sans, sans-serif" fill="#000">−2</text>
<path d="M652.0 280.50H654.6" stroke="#222" stroke-width="0.8"/>
<text x="657.2" y="284.90" font-size="10.5" font-family="DejaVu Sans, Liberation Sans, sans-serif" fill="#000">−4</text>
<text transform="translate(684,242.6) rotate(-90)" text-anchor="middle" font-size="10.5" font-family="DejaVu Sans, Liberation Sans, sans-serif" fill="#000">C</text>
<rect x="643.8" y="373.63" width="8.2" height="6.53" fill="#465ecf"/>
<rect x="643.8" y="367.30" width="8.2" height="6.53" fill="#6180e9"/>
<rect x="643.8" y="360.98" width="8.2" height="6.53" fill="#7ea1fa"/>
<rect x="643.8" y="354.65" width="8.2" height="6.53" fill="#9bbcff"/>
<rect x="643.8" y="348.33" width="8.2" height="6.53" fill="#b7cff9"/>
<rect x="643.8" y="342.00" width="8.2" height="6.53" fill="#d2dbe8"/>
<rect x="643.8" y="335.68" width="8.2" height="6.53" fill="#e5d7cf"/>
<rect x="643.8" y="329.35" width="8.2" height="6.53" fill="#edc4ae"/>
<rect x="643.8" y="323.03" width="8.2" height="6.53" fill="#eca88d"/>
<rect x="643.8" y="316.70" width="8.2" height="6.53" fill="#e4876d"/>
<rect x="643.8" y="310.38" width="8.2" height="6.53" fill="#d6624f"/>
<rect x="643.8" y="304.05" width="8.2" height="6.53" fill="#c33034"/>
<path d="M643.8 304.05L647.9 299.95L652.0 304.05Z" fill="#b20a2a"/>
<path d="M643.8 379.95L647.9 384.05L652.0 379.95Z" fill="#3b4cc0"/>
<path d="M643.8 304.05L647.9 299.95L652.0 304.05L652.0 379.95L647.9 384.05L643.8 379.95Z" fill="none" stroke="#222" stroke-width="0.6"/>
<path d="M652.0 304.05H654.6" stroke="#222" stroke-width="0.8"/>
<text x="657.2" y="308.45" font-size="10.5" font-family="DejaVu Sans, Liberation Sans, sans-serif" fill="#000">0.6</text>
<path d="M652.0 316.70H654.6" stroke="#222" stroke-width="0.8"/>
<text x="657.2" y="321.10" font-size="10.5" font-family="DejaVu Sans, Liberation Sans, sans-serif" fill="#000">0.4</text>
<path d="M652.0 329.35H654.6" stroke="#222" stroke-width="0.8"/>
<text x="657.2" y="333.75" font-size="10.5" font-family="DejaVu Sans, Liberation Sans, sans-serif" fill="#000">0.2</text>
<path d="M652.0 342.00H654.6" stroke="#222" stroke-width="0.8"/>
<text x="657.2" y="346.40" font-size="10.5" font-family="DejaVu Sans, Liberation Sans, sans-serif" fill="#000">0.0</text>
<path d="M652.0 354.65H654.6" stroke="#222" stroke-width="0.8"/>
<text x="657.2" y="359.05" font-size="10.5" font-family="DejaVu Sans, Liberation Sans, sans-serif" fill="#000">−0.2</text>
<path d="M652.0 367.30H654.6" stroke="#222" stroke-width="0.8"/>
<text x="657.2" y="371.70" font-size="10.5" font-family="DejaVu Sans, Liberation Sans, sans-serif" fill="#000">−0.4</text>
<path d="M652.0 379.95H654.6" stroke="#222" stroke-width="0.8"/>
<text x="657.2" y="384.35" font-size="10.5" font-family="DejaVu Sans, Liberation Sans, sans-serif" fill="#000">−0.6</text>
<text x="1.6" y="6.2" font-size="11" font-weight="bold" font-family="DejaVu Sans, Liberation Sans, sans-serif" fill="#000">a</text>
<text x="1.6" y="105.3" font-size="11" font-weight="bold" font-family="DejaVu Sans, Liberation Sans, sans-serif" fill="#000">b</text>
<text x="1.6" y="204.4" font-size="11" font-weight="bold" font-family="DejaVu Sans, Liberation Sans, sans-serif" fill="#000">c</text>
<text x="1.6" y="303.9" font-size="11" font-weight="bold" font-family="DejaVu Sans, Liberation Sans, sans-serif" fill="#000">d</text>
<text x="1.6" y="402.9" font-size="11" font-weight="bold" font-family="DejaVu Sans, Liberation Sans, sans-serif" fill="#000">e</text>
<text transform="translate(18.8,48.9) rotate(-90)" font-family="Liberation Serif, DejaVu Serif, serif" fill="#000"><tspan x="0.0" y="0.0" font-size="13.6" font-style="italic">T</tspan><tspan x="5.9" y="8.7" font-size="23.0" font-style="normal">′</tspan></text>
<path d="M8.1 40.9V48.7" stroke="#000" stroke-width="0.6"/>
<text transform="translate(19.2,161.9) rotate(-90)" font-family="Liberation Serif, DejaVu Serif, serif" fill="#000"><tspan x="0.0" y="0.0" font-size="12.6" font-style="italic">R</tspan><tspan x="7.6" y="1.9" font-size="8.8" font-style="normal">1</tspan><tspan x="14.6" y="0.0" font-size="12.6" font-style="normal">+</tspan><tspan x="24.7" y="0.0" font-size="12.6" font-style="italic">R</tspan><tspan x="32.4" y="1.9" font-size="8.8" font-style="normal">2</tspan></text>
<text transform="translate(19.2,248.9) rotate(-90)" font-family="Liberation Serif, DejaVu Serif, serif" fill="#000"><tspan x="0.0" y="0.0" font-size="12.6" font-style="italic">R</tspan><tspan x="7.6" y="1.9" font-size="8.8" font-style="normal">1</tspan></text>
<text transform="translate(19.2,348.7) rotate(-90)" font-family="Liberation Serif, DejaVu Serif, serif" fill="#000"><tspan x="0.0" y="0.0" font-size="12.6" font-style="italic">R</tspan><tspan x="7.6" y="1.9" font-size="8.8" font-style="normal">2</tspan></text>
<clipPath id="cpe"><rect x="59.4" y="403.10" width="596.9" height="76.20"/></clipPath>
<g clip-path="url(#cpe)">
<path d="M59.4 448.95H656.3" stroke="#333" stroke-width="1.5" stroke-dasharray="3.95 1.74"/>
<path d="M59.4 475.6 L61.4 473.8 L65.7 472.7 L74.4 471.6 L85.3 470.5 L96.2 469.5 L107.1 468.6 L118.0 467.3 L128.9 466.4 L139.7 465.5 L150.6 464.7 L160.0 464.2 L179.2 462.2 L208.4 459.3 L237.6 456.9 L266.8 454.9 L296.0 453.1 L325.2 451.4 L350.0 450.5 L380.9 448.8 L427.6 445.3 L456.8 443.2 L486.0 440.9 L515.2 439.6 L534.3 438.9 L550.7 436.8 L567.0 434.8 L575.2 432.7 L589.5 430.7 L603.8 428.7 L609.9 426.6 L618.1 425.2 L626.3 422.1 L630.4 419.9 L634.4 415.4 L638.5 411.3 L642.6 407.8 L647.7 403.1 L650.0 401.0" fill="none" stroke="#0a0aff" stroke-width="1.2" stroke-linejoin="round"/>
<path d="M59.4 470.5 L62.5 468.6 L65.7 467.5 L74.4 465.8 L85.3 463.6 L96.2 462.1 L107.1 460.3 L118.0 458.8 L128.9 457.7 L139.7 456.6 L150.6 455.5 L160.0 454.9 L179.2 452.6 L208.4 450.8 L243.4 448.8 L266.8 447.3 L296.0 445.5 L325.2 444.1 L350.0 443.3 L398.4 441.5 L456.8 440.3 L515.2 439.8 L540.4 439.9 L567.0 440.9 L587.4 442.6 L601.8 444.6 L609.9 446.4 L618.1 447.5 L622.2 449.1 L626.3 451.5 L630.4 455.2 L634.4 461.4 L638.5 469.5 L642.6 478.7 L644.0 482.0" fill="none" stroke="#fb2624" stroke-width="1.2" stroke-linejoin="round"/>
</g>
<rect x="59.4" y="403.10" width="596.9" height="76.20" fill="none" stroke="#222" stroke-width="0.9"/>
<path d="M56.9 403.10H59.4" stroke="#222" stroke-width="0.8"/>
<text x="55.2" y="405.70" text-anchor="end" font-size="7" font-family="DejaVu Sans, Liberation Sans, sans-serif" fill="#000">3</text>
<path d="M56.9 418.34H59.4" stroke="#222" stroke-width="0.8"/>
<text x="55.2" y="420.94" text-anchor="end" font-size="7" font-family="DejaVu Sans, Liberation Sans, sans-serif" fill="#000">2</text>
<path d="M56.9 433.58H59.4" stroke="#222" stroke-width="0.8"/>
<text x="55.2" y="436.18" text-anchor="end" font-size="7" font-family="DejaVu Sans, Liberation Sans, sans-serif" fill="#000">1</text>
<path d="M56.9 448.82H59.4" stroke="#222" stroke-width="0.8"/>
<text x="55.2" y="451.42" text-anchor="end" font-size="7" font-family="DejaVu Sans, Liberation Sans, sans-serif" fill="#000">0</text>
<path d="M56.9 464.06H59.4" stroke="#222" stroke-width="0.8"/>
<text x="55.2" y="466.66" text-anchor="end" font-size="7" font-family="DejaVu Sans, Liberation Sans, sans-serif" fill="#000">−1</text>
<path d="M56.9 479.30H59.4" stroke="#222" stroke-width="0.8"/>
<text x="55.2" y="481.90" text-anchor="end" font-size="7" font-family="DejaVu Sans, Liberation Sans, sans-serif" fill="#000">−2</text>
<path d="M59.4 479.30V481.80" stroke="#222" stroke-width="0.8"/>
<text x="59.4" y="490.40" text-anchor="middle" font-size="7" font-family="DejaVu Sans, Liberation Sans, sans-serif" fill="#000">0</text>
<path d="M179.1 479.30V481.80" stroke="#222" stroke-width="0.8"/>
<text x="179.1" y="490.40" text-anchor="middle" font-size="7" font-family="DejaVu Sans, Liberation Sans, sans-serif" fill="#000">20</text>
<path d="M298.8 479.30V481.80" stroke="#222" stroke-width="0.8"/>
<text x="298.8" y="490.40" text-anchor="middle" font-size="7" font-family="DejaVu Sans, Liberation Sans, sans-serif" fill="#000">40</text>
<path d="M418.5 479.30V481.80" stroke="#222" stroke-width="0.8"/>
<text x="418.5" y="490.40" text-anchor="middle" font-size="7" font-family="DejaVu Sans, Liberation Sans, sans-serif" fill="#000">60</text>
<path d="M538.2 479.30V481.80" stroke="#222" stroke-width="0.8"/>
<text x="538.2" y="490.40" text-anchor="middle" font-size="7" font-family="DejaVu Sans, Liberation Sans, sans-serif" fill="#000">80</text>
<text transform="translate(40.3,442.3) rotate(-90)" text-anchor="middle" font-size="10.5" font-family="DejaVu Sans, Liberation Sans, sans-serif" fill="#000">PCs</text>
<text x="357.8" y="502.4" text-anchor="middle" font-size="10.7" font-family="DejaVu Sans, Liberation Sans, sans-serif" fill="#000">quantiles of warm pool edge position (%)</text>
<rect x="64.2" y="407.4" width="39" height="27.9" rx="1.6" fill="#fff" fill-opacity="0.8" stroke="#ccc" stroke-width="0.7"/>
<path d="M66.8 414.6H84.9" stroke="#0a0aff" stroke-width="1.3"/>
<path d="M66.8 427.7H84.9" stroke="#fb2624" stroke-width="1.3"/>
<text x="92" y="417.6" font-size="10.6" font-family="Liberation Serif, DejaVu Serif, serif" font-style="italic" fill="#000">p<tspan font-size="7.6" dy="1.6" dx="-0.5" font-style="normal">1</tspan></text>
<text x="92" y="430.7" font-size="10.6" font-family="Liberation Serif, DejaVu Serif, serif" font-style="italic" fill="#000">p<tspan font-size="7.6" dy="1.6" dx="-0.5" font-style="normal">2</tspan></text>
</svg>
</body></html>
